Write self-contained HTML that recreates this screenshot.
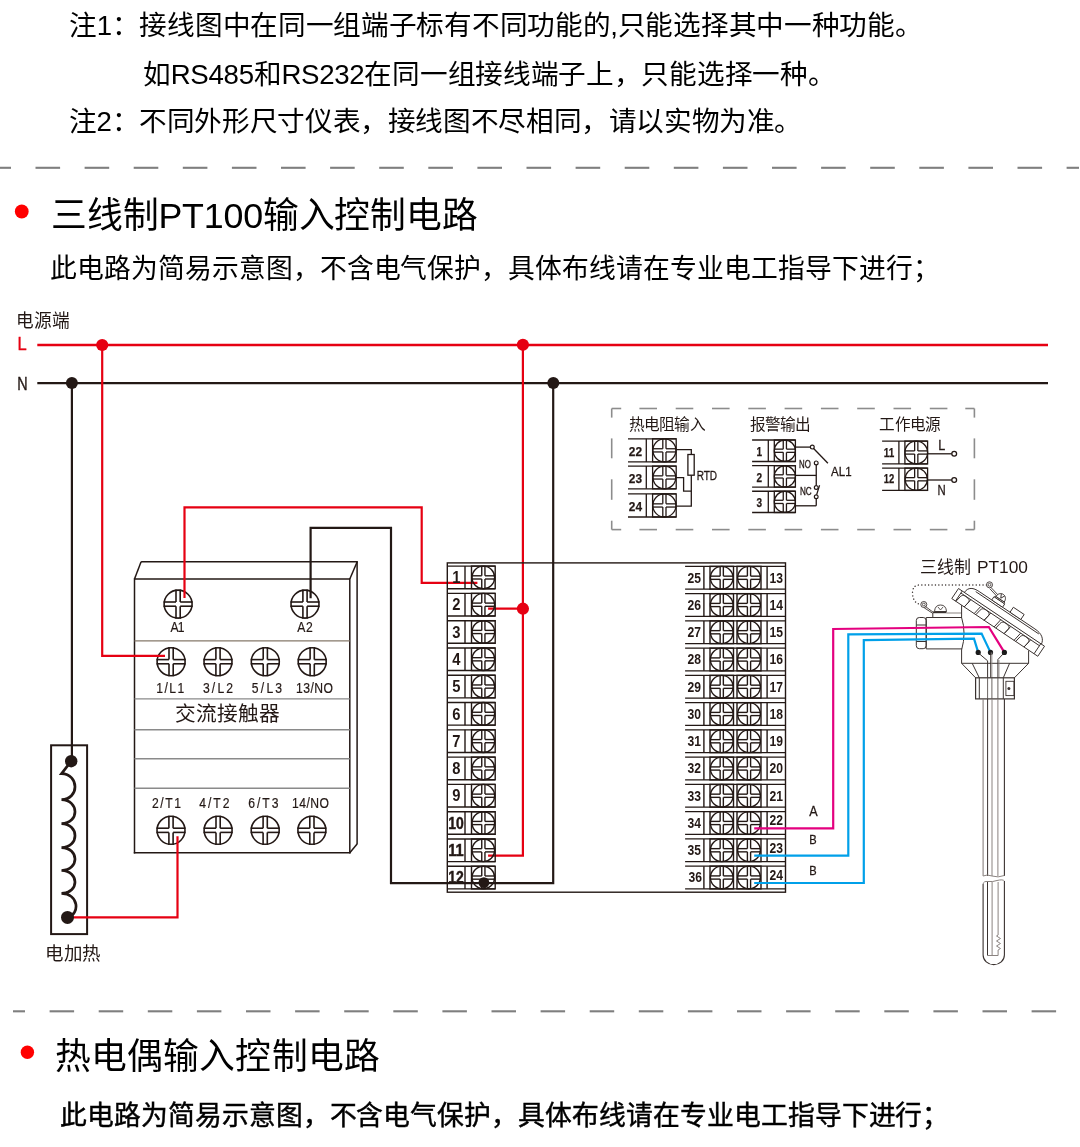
<!DOCTYPE html>
<html lang="zh-CN"><head><meta charset="utf-8">
<style>
html,body{margin:0;padding:0;background:#fff;width:1080px;height:1147px;overflow:hidden;position:relative}
body{font-family:"Liberation Sans",sans-serif;color:#000}
.t{position:absolute;white-space:nowrap;line-height:1;will-change:transform}
</style></head><body>
<div class="t" id="n1" style="left:69px;top:12px;font-size:27.65px;letter-spacing:-0.3px">注1：接线图中在同一组端子标有不同功能的,只能选择其中一种功能。</div>
<div class="t" id="n2" style="left:143px;top:61px;font-size:27.65px;letter-spacing:-0.3px">如RS485和RS232在同一组接线端子上，只能选择一种。</div>
<div class="t" id="n3" style="left:69px;top:108px;font-size:27.65px;letter-spacing:-0.38px">注2：不同外形尺寸仪表，接线图不尽相同，请以实物为准。</div>
<div class="t" id="h1" style="left:51px;top:199px;font-size:35.8px;letter-spacing:-0.2px">三线制PT100输入控制电路</div>
<div class="t" id="s1" style="left:50px;top:256px;font-size:26.8px;letter-spacing:-0.04px">此电路为简易示意图，不含电气保护，具体布线请在专业电工指导下进行；</div>
<div class="t" id="h2" style="left:55px;top:1040px;font-size:35.8px;letter-spacing:0.1px">热电偶输入控制电路</div>
<div class="t" id="s2" style="left:60px;top:1103px;font-size:26.8px;letter-spacing:-0.05px;-webkit-text-stroke:0.45px #000">此电路为简易示意图，不含电气保护，具体布线请在专业电工指导下进行；</div>

<svg width="1080" height="1147" viewBox="0 0 1080 1147" style="position:absolute;left:0;top:0;will-change:transform"><line x1="0.00" y1="167.80" x2="11.00" y2="167.80" stroke="#7f7f7f" stroke-width="2.1" />
<line x1="35.50" y1="167.80" x2="60.10" y2="167.80" stroke="#7f7f7f" stroke-width="2.1" />
<line x1="84.60" y1="167.80" x2="109.20" y2="167.80" stroke="#7f7f7f" stroke-width="2.1" />
<line x1="133.70" y1="167.80" x2="158.30" y2="167.80" stroke="#7f7f7f" stroke-width="2.1" />
<line x1="182.80" y1="167.80" x2="207.40" y2="167.80" stroke="#7f7f7f" stroke-width="2.1" />
<line x1="231.90" y1="167.80" x2="256.50" y2="167.80" stroke="#7f7f7f" stroke-width="2.1" />
<line x1="281.00" y1="167.80" x2="305.60" y2="167.80" stroke="#7f7f7f" stroke-width="2.1" />
<line x1="330.10" y1="167.80" x2="354.70" y2="167.80" stroke="#7f7f7f" stroke-width="2.1" />
<line x1="379.20" y1="167.80" x2="403.80" y2="167.80" stroke="#7f7f7f" stroke-width="2.1" />
<line x1="428.30" y1="167.80" x2="452.90" y2="167.80" stroke="#7f7f7f" stroke-width="2.1" />
<line x1="477.40" y1="167.80" x2="502.00" y2="167.80" stroke="#7f7f7f" stroke-width="2.1" />
<line x1="526.50" y1="167.80" x2="551.10" y2="167.80" stroke="#7f7f7f" stroke-width="2.1" />
<line x1="575.60" y1="167.80" x2="600.20" y2="167.80" stroke="#7f7f7f" stroke-width="2.1" />
<line x1="624.70" y1="167.80" x2="649.30" y2="167.80" stroke="#7f7f7f" stroke-width="2.1" />
<line x1="673.80" y1="167.80" x2="698.40" y2="167.80" stroke="#7f7f7f" stroke-width="2.1" />
<line x1="722.90" y1="167.80" x2="747.50" y2="167.80" stroke="#7f7f7f" stroke-width="2.1" />
<line x1="772.00" y1="167.80" x2="796.60" y2="167.80" stroke="#7f7f7f" stroke-width="2.1" />
<line x1="821.10" y1="167.80" x2="845.70" y2="167.80" stroke="#7f7f7f" stroke-width="2.1" />
<line x1="870.20" y1="167.80" x2="894.80" y2="167.80" stroke="#7f7f7f" stroke-width="2.1" />
<line x1="919.30" y1="167.80" x2="943.90" y2="167.80" stroke="#7f7f7f" stroke-width="2.1" />
<line x1="968.40" y1="167.80" x2="993.00" y2="167.80" stroke="#7f7f7f" stroke-width="2.1" />
<line x1="1017.50" y1="167.80" x2="1042.10" y2="167.80" stroke="#7f7f7f" stroke-width="2.1" />
<line x1="1066.60" y1="167.80" x2="1079.00" y2="167.80" stroke="#7f7f7f" stroke-width="2.1" />
<line x1="13.00" y1="1011.30" x2="25.00" y2="1011.30" stroke="#7f7f7f" stroke-width="2.1" />
<line x1="49.60" y1="1011.30" x2="74.10" y2="1011.30" stroke="#7f7f7f" stroke-width="2.1" />
<line x1="98.70" y1="1011.30" x2="123.20" y2="1011.30" stroke="#7f7f7f" stroke-width="2.1" />
<line x1="147.80" y1="1011.30" x2="172.30" y2="1011.30" stroke="#7f7f7f" stroke-width="2.1" />
<line x1="196.90" y1="1011.30" x2="221.40" y2="1011.30" stroke="#7f7f7f" stroke-width="2.1" />
<line x1="246.00" y1="1011.30" x2="270.50" y2="1011.30" stroke="#7f7f7f" stroke-width="2.1" />
<line x1="295.10" y1="1011.30" x2="319.60" y2="1011.30" stroke="#7f7f7f" stroke-width="2.1" />
<line x1="344.20" y1="1011.30" x2="368.70" y2="1011.30" stroke="#7f7f7f" stroke-width="2.1" />
<line x1="393.30" y1="1011.30" x2="417.80" y2="1011.30" stroke="#7f7f7f" stroke-width="2.1" />
<line x1="442.40" y1="1011.30" x2="466.90" y2="1011.30" stroke="#7f7f7f" stroke-width="2.1" />
<line x1="491.50" y1="1011.30" x2="516.00" y2="1011.30" stroke="#7f7f7f" stroke-width="2.1" />
<line x1="540.60" y1="1011.30" x2="565.10" y2="1011.30" stroke="#7f7f7f" stroke-width="2.1" />
<line x1="589.70" y1="1011.30" x2="614.20" y2="1011.30" stroke="#7f7f7f" stroke-width="2.1" />
<line x1="638.80" y1="1011.30" x2="663.30" y2="1011.30" stroke="#7f7f7f" stroke-width="2.1" />
<line x1="687.90" y1="1011.30" x2="712.40" y2="1011.30" stroke="#7f7f7f" stroke-width="2.1" />
<line x1="737.00" y1="1011.30" x2="761.50" y2="1011.30" stroke="#7f7f7f" stroke-width="2.1" />
<line x1="786.10" y1="1011.30" x2="810.60" y2="1011.30" stroke="#7f7f7f" stroke-width="2.1" />
<line x1="835.20" y1="1011.30" x2="859.70" y2="1011.30" stroke="#7f7f7f" stroke-width="2.1" />
<line x1="884.30" y1="1011.30" x2="908.80" y2="1011.30" stroke="#7f7f7f" stroke-width="2.1" />
<line x1="933.40" y1="1011.30" x2="957.90" y2="1011.30" stroke="#7f7f7f" stroke-width="2.1" />
<line x1="982.50" y1="1011.30" x2="1007.00" y2="1011.30" stroke="#7f7f7f" stroke-width="2.1" />
<line x1="1031.60" y1="1011.30" x2="1056.10" y2="1011.30" stroke="#7f7f7f" stroke-width="2.1" />
<circle cx="21.75" cy="211.50" r="6.90" fill="#ff0000"/>
<circle cx="27.40" cy="1052.20" r="6.70" fill="#ff0000"/>
<text x="15.80" y="326.50" font-size="18.5" fill="#231815" text-anchor="start" font-weight="normal" font-family='"Liberation Sans",sans-serif' textLength="54.50" lengthAdjust="spacingAndGlyphs" >电源端</text>
<text x="17.60" y="349.90" font-size="17.6" fill="#e60012" text-anchor="start" font-weight="normal" font-family='"Liberation Sans",sans-serif' textLength="9.20" lengthAdjust="spacingAndGlyphs" stroke="#e60012" stroke-width="0.35">L</text>
<text x="17.30" y="389.90" font-size="17.6" fill="#231815" text-anchor="start" font-weight="normal" font-family='"Liberation Sans",sans-serif' textLength="10.40" lengthAdjust="spacingAndGlyphs" stroke="#231815" stroke-width="0.35">N</text>
<line x1="37.30" y1="345.00" x2="1048.00" y2="345.00" stroke="#e60012" stroke-width="2.3" />
<line x1="37.30" y1="383.10" x2="1048.00" y2="383.10" stroke="#231815" stroke-width="2.3" />
<line x1="141.10" y1="561.80" x2="357.20" y2="561.80" stroke="#231815" stroke-width="1.5" />
<line x1="134.50" y1="579.00" x2="349.80" y2="579.00" stroke="#231815" stroke-width="1.5" />
<line x1="134.50" y1="579.00" x2="141.10" y2="561.80" stroke="#231815" stroke-width="1.5" />
<line x1="349.80" y1="579.00" x2="357.20" y2="561.80" stroke="#231815" stroke-width="1.5" />
<line x1="134.50" y1="578.30" x2="134.50" y2="853.40" stroke="#231815" stroke-width="1.5" />
<line x1="349.80" y1="578.30" x2="349.80" y2="853.40" stroke="#231815" stroke-width="1.5" />
<line x1="357.10" y1="561.10" x2="357.10" y2="844.20" stroke="#231815" stroke-width="1.5" />
<line x1="133.80" y1="852.70" x2="350.50" y2="852.70" stroke="#231815" stroke-width="1.5" />
<line x1="349.80" y1="852.70" x2="357.10" y2="843.90" stroke="#231815" stroke-width="1.5" />
<line x1="134.50" y1="640.80" x2="349.80" y2="640.80" stroke="#85786a" stroke-width="1.3" />
<line x1="134.50" y1="698.90" x2="349.80" y2="698.90" stroke="#8a8a8a" stroke-width="1.4" />
<line x1="134.50" y1="729.80" x2="349.80" y2="729.80" stroke="#8a8a8a" stroke-width="1.4" />
<line x1="134.50" y1="758.80" x2="349.80" y2="758.80" stroke="#8a8a8a" stroke-width="1.4" />
<line x1="134.50" y1="788.30" x2="349.80" y2="788.30" stroke="#8a8a8a" stroke-width="1.4" />
<circle cx="178.10" cy="604.10" r="14.00" fill="none" stroke="#231815" stroke-width="1.6"/>
<line x1="176.00" y1="589.50" x2="176.00" y2="602.00" stroke="#231815" stroke-width="1.6" />
<line x1="176.00" y1="606.20" x2="176.00" y2="618.70" stroke="#231815" stroke-width="1.6" />
<line x1="180.20" y1="589.50" x2="180.20" y2="602.00" stroke="#231815" stroke-width="1.6" />
<line x1="180.20" y1="606.20" x2="180.20" y2="618.70" stroke="#231815" stroke-width="1.6" />
<line x1="163.50" y1="602.00" x2="176.00" y2="602.00" stroke="#231815" stroke-width="1.6" />
<line x1="180.20" y1="602.00" x2="192.70" y2="602.00" stroke="#231815" stroke-width="1.6" />
<line x1="163.50" y1="606.20" x2="176.00" y2="606.20" stroke="#231815" stroke-width="1.6" />
<line x1="180.20" y1="606.20" x2="192.70" y2="606.20" stroke="#231815" stroke-width="1.6" />
<circle cx="305.00" cy="604.10" r="14.00" fill="none" stroke="#231815" stroke-width="1.6"/>
<line x1="302.90" y1="589.50" x2="302.90" y2="602.00" stroke="#231815" stroke-width="1.6" />
<line x1="302.90" y1="606.20" x2="302.90" y2="618.70" stroke="#231815" stroke-width="1.6" />
<line x1="307.10" y1="589.50" x2="307.10" y2="602.00" stroke="#231815" stroke-width="1.6" />
<line x1="307.10" y1="606.20" x2="307.10" y2="618.70" stroke="#231815" stroke-width="1.6" />
<line x1="290.40" y1="602.00" x2="302.90" y2="602.00" stroke="#231815" stroke-width="1.6" />
<line x1="307.10" y1="602.00" x2="319.60" y2="602.00" stroke="#231815" stroke-width="1.6" />
<line x1="290.40" y1="606.20" x2="302.90" y2="606.20" stroke="#231815" stroke-width="1.6" />
<line x1="307.10" y1="606.20" x2="319.60" y2="606.20" stroke="#231815" stroke-width="1.6" />
<text transform="translate(177.60,632.20) scale(0.85,1)" font-size="14.3" stroke="#231815" stroke-width="0.2" fill="#231815" text-anchor="middle" font-family='"Liberation Sans",sans-serif' textLength="16.59" lengthAdjust="spacing">A1</text>
<text transform="translate(305.00,632.20) scale(0.85,1)" font-size="14.3" stroke="#231815" stroke-width="0.2" fill="#231815" text-anchor="middle" font-family='"Liberation Sans",sans-serif' textLength="18.12" lengthAdjust="spacing">A2</text>
<circle cx="171.10" cy="661.70" r="14.00" fill="none" stroke="#231815" stroke-width="1.6"/>
<line x1="169.00" y1="647.10" x2="169.00" y2="659.60" stroke="#231815" stroke-width="1.6" />
<line x1="169.00" y1="663.80" x2="169.00" y2="676.30" stroke="#231815" stroke-width="1.6" />
<line x1="173.20" y1="647.10" x2="173.20" y2="659.60" stroke="#231815" stroke-width="1.6" />
<line x1="173.20" y1="663.80" x2="173.20" y2="676.30" stroke="#231815" stroke-width="1.6" />
<line x1="156.50" y1="659.60" x2="169.00" y2="659.60" stroke="#231815" stroke-width="1.6" />
<line x1="173.20" y1="659.60" x2="185.70" y2="659.60" stroke="#231815" stroke-width="1.6" />
<line x1="156.50" y1="663.80" x2="169.00" y2="663.80" stroke="#231815" stroke-width="1.6" />
<line x1="173.20" y1="663.80" x2="185.70" y2="663.80" stroke="#231815" stroke-width="1.6" />
<text transform="translate(170.25,692.60) scale(0.85,1)" font-size="14.3" stroke="#231815" stroke-width="0.2" fill="#231815" text-anchor="middle" font-family='"Liberation Sans",sans-serif' textLength="33.06" lengthAdjust="spacing">1/L1</text>
<circle cx="218.00" cy="661.70" r="14.00" fill="none" stroke="#231815" stroke-width="1.6"/>
<line x1="215.90" y1="647.10" x2="215.90" y2="659.60" stroke="#231815" stroke-width="1.6" />
<line x1="215.90" y1="663.80" x2="215.90" y2="676.30" stroke="#231815" stroke-width="1.6" />
<line x1="220.10" y1="647.10" x2="220.10" y2="659.60" stroke="#231815" stroke-width="1.6" />
<line x1="220.10" y1="663.80" x2="220.10" y2="676.30" stroke="#231815" stroke-width="1.6" />
<line x1="203.40" y1="659.60" x2="215.90" y2="659.60" stroke="#231815" stroke-width="1.6" />
<line x1="220.10" y1="659.60" x2="232.60" y2="659.60" stroke="#231815" stroke-width="1.6" />
<line x1="203.40" y1="663.80" x2="215.90" y2="663.80" stroke="#231815" stroke-width="1.6" />
<line x1="220.10" y1="663.80" x2="232.60" y2="663.80" stroke="#231815" stroke-width="1.6" />
<text transform="translate(218.00,692.60) scale(0.85,1)" font-size="14.3" stroke="#231815" stroke-width="0.2" fill="#231815" text-anchor="middle" font-family='"Liberation Sans",sans-serif' textLength="35.41" lengthAdjust="spacing">3/L2</text>
<circle cx="265.30" cy="661.70" r="14.00" fill="none" stroke="#231815" stroke-width="1.6"/>
<line x1="263.20" y1="647.10" x2="263.20" y2="659.60" stroke="#231815" stroke-width="1.6" />
<line x1="263.20" y1="663.80" x2="263.20" y2="676.30" stroke="#231815" stroke-width="1.6" />
<line x1="267.40" y1="647.10" x2="267.40" y2="659.60" stroke="#231815" stroke-width="1.6" />
<line x1="267.40" y1="663.80" x2="267.40" y2="676.30" stroke="#231815" stroke-width="1.6" />
<line x1="250.70" y1="659.60" x2="263.20" y2="659.60" stroke="#231815" stroke-width="1.6" />
<line x1="267.40" y1="659.60" x2="279.90" y2="659.60" stroke="#231815" stroke-width="1.6" />
<line x1="250.70" y1="663.80" x2="263.20" y2="663.80" stroke="#231815" stroke-width="1.6" />
<line x1="267.40" y1="663.80" x2="279.90" y2="663.80" stroke="#231815" stroke-width="1.6" />
<text transform="translate(267.00,692.60) scale(0.85,1)" font-size="14.3" stroke="#231815" stroke-width="0.2" fill="#231815" text-anchor="middle" font-family='"Liberation Sans",sans-serif' textLength="35.65" lengthAdjust="spacing">5/L3</text>
<circle cx="312.20" cy="661.70" r="14.00" fill="none" stroke="#231815" stroke-width="1.6"/>
<line x1="310.10" y1="647.10" x2="310.10" y2="659.60" stroke="#231815" stroke-width="1.6" />
<line x1="310.10" y1="663.80" x2="310.10" y2="676.30" stroke="#231815" stroke-width="1.6" />
<line x1="314.30" y1="647.10" x2="314.30" y2="659.60" stroke="#231815" stroke-width="1.6" />
<line x1="314.30" y1="663.80" x2="314.30" y2="676.30" stroke="#231815" stroke-width="1.6" />
<line x1="297.60" y1="659.60" x2="310.10" y2="659.60" stroke="#231815" stroke-width="1.6" />
<line x1="314.30" y1="659.60" x2="326.80" y2="659.60" stroke="#231815" stroke-width="1.6" />
<line x1="297.60" y1="663.80" x2="310.10" y2="663.80" stroke="#231815" stroke-width="1.6" />
<line x1="314.30" y1="663.80" x2="326.80" y2="663.80" stroke="#231815" stroke-width="1.6" />
<text transform="translate(314.50,692.60) scale(0.85,1)" font-size="14.3" stroke="#231815" stroke-width="0.2" fill="#231815" text-anchor="middle" font-family='"Liberation Sans",sans-serif' textLength="43.65" lengthAdjust="spacing">13/NO</text>
<text x="175.00" y="721.30" font-size="20.8" fill="#231815" text-anchor="start" font-weight="normal" font-family='"Liberation Sans",sans-serif' textLength="104.50" lengthAdjust="spacingAndGlyphs" >交流接触器</text>
<circle cx="171.00" cy="830.30" r="14.00" fill="none" stroke="#231815" stroke-width="1.6"/>
<line x1="168.90" y1="815.70" x2="168.90" y2="828.20" stroke="#231815" stroke-width="1.6" />
<line x1="168.90" y1="832.40" x2="168.90" y2="844.90" stroke="#231815" stroke-width="1.6" />
<line x1="173.10" y1="815.70" x2="173.10" y2="828.20" stroke="#231815" stroke-width="1.6" />
<line x1="173.10" y1="832.40" x2="173.10" y2="844.90" stroke="#231815" stroke-width="1.6" />
<line x1="156.40" y1="828.20" x2="168.90" y2="828.20" stroke="#231815" stroke-width="1.6" />
<line x1="173.10" y1="828.20" x2="185.60" y2="828.20" stroke="#231815" stroke-width="1.6" />
<line x1="156.40" y1="832.40" x2="168.90" y2="832.40" stroke="#231815" stroke-width="1.6" />
<line x1="173.10" y1="832.40" x2="185.60" y2="832.40" stroke="#231815" stroke-width="1.6" />
<text transform="translate(166.50,808.00) scale(0.85,1)" font-size="14.3" stroke="#231815" stroke-width="0.2" fill="#231815" text-anchor="middle" font-family='"Liberation Sans",sans-serif' textLength="33.88" lengthAdjust="spacing">2/T1</text>
<circle cx="218.10" cy="830.30" r="14.00" fill="none" stroke="#231815" stroke-width="1.6"/>
<line x1="216.00" y1="815.70" x2="216.00" y2="828.20" stroke="#231815" stroke-width="1.6" />
<line x1="216.00" y1="832.40" x2="216.00" y2="844.90" stroke="#231815" stroke-width="1.6" />
<line x1="220.20" y1="815.70" x2="220.20" y2="828.20" stroke="#231815" stroke-width="1.6" />
<line x1="220.20" y1="832.40" x2="220.20" y2="844.90" stroke="#231815" stroke-width="1.6" />
<line x1="203.50" y1="828.20" x2="216.00" y2="828.20" stroke="#231815" stroke-width="1.6" />
<line x1="220.20" y1="828.20" x2="232.70" y2="828.20" stroke="#231815" stroke-width="1.6" />
<line x1="203.50" y1="832.40" x2="216.00" y2="832.40" stroke="#231815" stroke-width="1.6" />
<line x1="220.20" y1="832.40" x2="232.70" y2="832.40" stroke="#231815" stroke-width="1.6" />
<text transform="translate(214.30,808.00) scale(0.85,1)" font-size="14.3" stroke="#231815" stroke-width="0.2" fill="#231815" text-anchor="middle" font-family='"Liberation Sans",sans-serif' textLength="35.65" lengthAdjust="spacing">4/T2</text>
<circle cx="265.20" cy="830.30" r="14.00" fill="none" stroke="#231815" stroke-width="1.6"/>
<line x1="263.10" y1="815.70" x2="263.10" y2="828.20" stroke="#231815" stroke-width="1.6" />
<line x1="263.10" y1="832.40" x2="263.10" y2="844.90" stroke="#231815" stroke-width="1.6" />
<line x1="267.30" y1="815.70" x2="267.30" y2="828.20" stroke="#231815" stroke-width="1.6" />
<line x1="267.30" y1="832.40" x2="267.30" y2="844.90" stroke="#231815" stroke-width="1.6" />
<line x1="250.60" y1="828.20" x2="263.10" y2="828.20" stroke="#231815" stroke-width="1.6" />
<line x1="267.30" y1="828.20" x2="279.80" y2="828.20" stroke="#231815" stroke-width="1.6" />
<line x1="250.60" y1="832.40" x2="263.10" y2="832.40" stroke="#231815" stroke-width="1.6" />
<line x1="267.30" y1="832.40" x2="279.80" y2="832.40" stroke="#231815" stroke-width="1.6" />
<text transform="translate(263.30,808.00) scale(0.85,1)" font-size="14.3" stroke="#231815" stroke-width="0.2" fill="#231815" text-anchor="middle" font-family='"Liberation Sans",sans-serif' textLength="35.53" lengthAdjust="spacing">6/T3</text>
<circle cx="311.90" cy="830.30" r="14.00" fill="none" stroke="#231815" stroke-width="1.6"/>
<line x1="309.80" y1="815.70" x2="309.80" y2="828.20" stroke="#231815" stroke-width="1.6" />
<line x1="309.80" y1="832.40" x2="309.80" y2="844.90" stroke="#231815" stroke-width="1.6" />
<line x1="314.00" y1="815.70" x2="314.00" y2="828.20" stroke="#231815" stroke-width="1.6" />
<line x1="314.00" y1="832.40" x2="314.00" y2="844.90" stroke="#231815" stroke-width="1.6" />
<line x1="297.30" y1="828.20" x2="309.80" y2="828.20" stroke="#231815" stroke-width="1.6" />
<line x1="314.00" y1="828.20" x2="326.50" y2="828.20" stroke="#231815" stroke-width="1.6" />
<line x1="297.30" y1="832.40" x2="309.80" y2="832.40" stroke="#231815" stroke-width="1.6" />
<line x1="314.00" y1="832.40" x2="326.50" y2="832.40" stroke="#231815" stroke-width="1.6" />
<text transform="translate(310.50,808.00) scale(0.85,1)" font-size="14.3" stroke="#231815" stroke-width="0.2" fill="#231815" text-anchor="middle" font-family='"Liberation Sans",sans-serif' textLength="43.65" lengthAdjust="spacing">14/NO</text>
<rect x="51.1" y="745.3" width="36" height="188.8" fill="none" stroke="#231815" stroke-width="2"/>
<path d="M71.2,761.2 L61.5,773.6 C79.5,774.1 79.5,799.2 61.5,799.7 C79.5,800.2 79.5,823.2 61.5,823.7 C79.5,824.2 79.5,847.1 61.5,847.6 C79.5,848.1 79.5,870.0 61.5,870.5 C79.5,871.0 79.5,892.9 61.5,893.4 C79.5,894 79.5,914 68.5,917" fill="none" stroke="#231815" stroke-width="2.7"/>
<text x="45.00" y="960.30" font-size="18" fill="#231815" text-anchor="start" font-weight="normal" font-family='"Liberation Sans",sans-serif' textLength="55.50" lengthAdjust="spacingAndGlyphs" >电加热</text>
<polyline points="102.20,345.00 102.20,655.90 165.00,655.90" fill="none" stroke="#e60012" stroke-width="2.2" stroke-linejoin="miter" />
<polyline points="71.90,383.10 71.90,761.00" fill="none" stroke="#231815" stroke-width="2.2" stroke-linejoin="miter" />
<polyline points="184.50,598.00 184.50,507.40 421.70,507.40 421.70,582.80 477.40,582.80" fill="none" stroke="#e60012" stroke-width="2.2" stroke-linejoin="miter" />
<polyline points="310.60,598.30 310.60,527.80 391.00,527.80 391.00,883.20 553.20,883.20 553.20,383.10" fill="none" stroke="#231815" stroke-width="2.2" stroke-linejoin="miter" />
<polyline points="522.90,345.00 522.90,855.70 488.10,855.70" fill="none" stroke="#e60012" stroke-width="2.2" stroke-linejoin="miter" />
<polyline points="522.90,608.70 488.10,608.70" fill="none" stroke="#e60012" stroke-width="2.2" stroke-linejoin="miter" />
<polyline points="67.50,917.40 177.50,917.40 177.50,836.30" fill="none" stroke="#e60012" stroke-width="2.2" stroke-linejoin="miter" />
<circle cx="71.20" cy="761.20" r="6.20" fill="#231815"/>
<circle cx="67.50" cy="917.40" r="6.50" fill="#231815"/>
<circle cx="102.20" cy="345.00" r="6.10" fill="#e60012"/>
<circle cx="522.90" cy="344.80" r="6.10" fill="#e60012"/>
<circle cx="522.90" cy="608.70" r="6.10" fill="#e60012"/>
<circle cx="71.90" cy="383.10" r="6.00" fill="#231815"/>
<circle cx="553.30" cy="383.10" r="6.00" fill="#231815"/>
<rect x="447.3" y="562.9" width="338.2" height="329.3" fill="none" stroke="#231815" stroke-width="1.4"/>
<line x1="447.30" y1="566.10" x2="495.20" y2="566.10" stroke="#231815" stroke-width="1.4" />
<line x1="447.30" y1="588.70" x2="495.20" y2="588.70" stroke="#231815" stroke-width="1.4" />
<line x1="465.00" y1="566.10" x2="465.00" y2="588.70" stroke="#231815" stroke-width="1.4" />
<rect x="471.50" y="566.10" width="23.70" height="22.60" fill="none" stroke="#231815" stroke-width="1.4"/>
<circle cx="483.35" cy="577.40" r="11.30" fill="none" stroke="#231815" stroke-width="1.4"/>
<line x1="481.75" y1="566.10" x2="481.75" y2="575.80" stroke="#231815" stroke-width="1.4" />
<line x1="481.75" y1="579.00" x2="481.75" y2="588.70" stroke="#231815" stroke-width="1.4" />
<line x1="484.95" y1="566.10" x2="484.95" y2="575.80" stroke="#231815" stroke-width="1.4" />
<line x1="484.95" y1="579.00" x2="484.95" y2="588.70" stroke="#231815" stroke-width="1.4" />
<line x1="471.50" y1="575.80" x2="481.75" y2="575.80" stroke="#231815" stroke-width="1.4" />
<line x1="484.95" y1="575.80" x2="495.20" y2="575.80" stroke="#231815" stroke-width="1.4" />
<line x1="471.50" y1="579.00" x2="481.75" y2="579.00" stroke="#231815" stroke-width="1.4" />
<line x1="484.95" y1="579.00" x2="495.20" y2="579.00" stroke="#231815" stroke-width="1.4" />
<text x="456.30" y="583.10" font-size="16" fill="#231815" text-anchor="middle" font-weight="bold" font-family='"Liberation Sans",sans-serif' textLength="8.20" lengthAdjust="spacingAndGlyphs" >1</text>
<line x1="447.30" y1="593.39" x2="495.20" y2="593.39" stroke="#231815" stroke-width="1.4" />
<line x1="447.30" y1="615.99" x2="495.20" y2="615.99" stroke="#231815" stroke-width="1.4" />
<line x1="465.00" y1="593.39" x2="465.00" y2="615.99" stroke="#231815" stroke-width="1.4" />
<rect x="471.50" y="593.39" width="23.70" height="22.60" fill="none" stroke="#231815" stroke-width="1.4"/>
<circle cx="483.35" cy="604.69" r="11.30" fill="none" stroke="#231815" stroke-width="1.4"/>
<line x1="481.75" y1="593.39" x2="481.75" y2="603.09" stroke="#231815" stroke-width="1.4" />
<line x1="481.75" y1="606.29" x2="481.75" y2="615.99" stroke="#231815" stroke-width="1.4" />
<line x1="484.95" y1="593.39" x2="484.95" y2="603.09" stroke="#231815" stroke-width="1.4" />
<line x1="484.95" y1="606.29" x2="484.95" y2="615.99" stroke="#231815" stroke-width="1.4" />
<line x1="471.50" y1="603.09" x2="481.75" y2="603.09" stroke="#231815" stroke-width="1.4" />
<line x1="484.95" y1="603.09" x2="495.20" y2="603.09" stroke="#231815" stroke-width="1.4" />
<line x1="471.50" y1="606.29" x2="481.75" y2="606.29" stroke="#231815" stroke-width="1.4" />
<line x1="484.95" y1="606.29" x2="495.20" y2="606.29" stroke="#231815" stroke-width="1.4" />
<text x="456.30" y="610.39" font-size="16" fill="#231815" text-anchor="middle" font-weight="bold" font-family='"Liberation Sans",sans-serif' textLength="8.20" lengthAdjust="spacingAndGlyphs" >2</text>
<line x1="447.30" y1="620.68" x2="495.20" y2="620.68" stroke="#231815" stroke-width="1.4" />
<line x1="447.30" y1="643.28" x2="495.20" y2="643.28" stroke="#231815" stroke-width="1.4" />
<line x1="465.00" y1="620.68" x2="465.00" y2="643.28" stroke="#231815" stroke-width="1.4" />
<rect x="471.50" y="620.68" width="23.70" height="22.60" fill="none" stroke="#231815" stroke-width="1.4"/>
<circle cx="483.35" cy="631.98" r="11.30" fill="none" stroke="#231815" stroke-width="1.4"/>
<line x1="481.75" y1="620.68" x2="481.75" y2="630.38" stroke="#231815" stroke-width="1.4" />
<line x1="481.75" y1="633.58" x2="481.75" y2="643.28" stroke="#231815" stroke-width="1.4" />
<line x1="484.95" y1="620.68" x2="484.95" y2="630.38" stroke="#231815" stroke-width="1.4" />
<line x1="484.95" y1="633.58" x2="484.95" y2="643.28" stroke="#231815" stroke-width="1.4" />
<line x1="471.50" y1="630.38" x2="481.75" y2="630.38" stroke="#231815" stroke-width="1.4" />
<line x1="484.95" y1="630.38" x2="495.20" y2="630.38" stroke="#231815" stroke-width="1.4" />
<line x1="471.50" y1="633.58" x2="481.75" y2="633.58" stroke="#231815" stroke-width="1.4" />
<line x1="484.95" y1="633.58" x2="495.20" y2="633.58" stroke="#231815" stroke-width="1.4" />
<text x="456.30" y="637.68" font-size="16" fill="#231815" text-anchor="middle" font-weight="bold" font-family='"Liberation Sans",sans-serif' textLength="8.20" lengthAdjust="spacingAndGlyphs" >3</text>
<line x1="447.30" y1="647.97" x2="495.20" y2="647.97" stroke="#231815" stroke-width="1.4" />
<line x1="447.30" y1="670.57" x2="495.20" y2="670.57" stroke="#231815" stroke-width="1.4" />
<line x1="465.00" y1="647.97" x2="465.00" y2="670.57" stroke="#231815" stroke-width="1.4" />
<rect x="471.50" y="647.97" width="23.70" height="22.60" fill="none" stroke="#231815" stroke-width="1.4"/>
<circle cx="483.35" cy="659.27" r="11.30" fill="none" stroke="#231815" stroke-width="1.4"/>
<line x1="481.75" y1="647.97" x2="481.75" y2="657.67" stroke="#231815" stroke-width="1.4" />
<line x1="481.75" y1="660.87" x2="481.75" y2="670.57" stroke="#231815" stroke-width="1.4" />
<line x1="484.95" y1="647.97" x2="484.95" y2="657.67" stroke="#231815" stroke-width="1.4" />
<line x1="484.95" y1="660.87" x2="484.95" y2="670.57" stroke="#231815" stroke-width="1.4" />
<line x1="471.50" y1="657.67" x2="481.75" y2="657.67" stroke="#231815" stroke-width="1.4" />
<line x1="484.95" y1="657.67" x2="495.20" y2="657.67" stroke="#231815" stroke-width="1.4" />
<line x1="471.50" y1="660.87" x2="481.75" y2="660.87" stroke="#231815" stroke-width="1.4" />
<line x1="484.95" y1="660.87" x2="495.20" y2="660.87" stroke="#231815" stroke-width="1.4" />
<text x="456.30" y="664.97" font-size="16" fill="#231815" text-anchor="middle" font-weight="bold" font-family='"Liberation Sans",sans-serif' textLength="8.20" lengthAdjust="spacingAndGlyphs" >4</text>
<line x1="447.30" y1="675.26" x2="495.20" y2="675.26" stroke="#231815" stroke-width="1.4" />
<line x1="447.30" y1="697.86" x2="495.20" y2="697.86" stroke="#231815" stroke-width="1.4" />
<line x1="465.00" y1="675.26" x2="465.00" y2="697.86" stroke="#231815" stroke-width="1.4" />
<rect x="471.50" y="675.26" width="23.70" height="22.60" fill="none" stroke="#231815" stroke-width="1.4"/>
<circle cx="483.35" cy="686.56" r="11.30" fill="none" stroke="#231815" stroke-width="1.4"/>
<line x1="481.75" y1="675.26" x2="481.75" y2="684.96" stroke="#231815" stroke-width="1.4" />
<line x1="481.75" y1="688.16" x2="481.75" y2="697.86" stroke="#231815" stroke-width="1.4" />
<line x1="484.95" y1="675.26" x2="484.95" y2="684.96" stroke="#231815" stroke-width="1.4" />
<line x1="484.95" y1="688.16" x2="484.95" y2="697.86" stroke="#231815" stroke-width="1.4" />
<line x1="471.50" y1="684.96" x2="481.75" y2="684.96" stroke="#231815" stroke-width="1.4" />
<line x1="484.95" y1="684.96" x2="495.20" y2="684.96" stroke="#231815" stroke-width="1.4" />
<line x1="471.50" y1="688.16" x2="481.75" y2="688.16" stroke="#231815" stroke-width="1.4" />
<line x1="484.95" y1="688.16" x2="495.20" y2="688.16" stroke="#231815" stroke-width="1.4" />
<text x="456.30" y="692.26" font-size="16" fill="#231815" text-anchor="middle" font-weight="bold" font-family='"Liberation Sans",sans-serif' textLength="8.20" lengthAdjust="spacingAndGlyphs" >5</text>
<line x1="447.30" y1="702.55" x2="495.20" y2="702.55" stroke="#231815" stroke-width="1.4" />
<line x1="447.30" y1="725.15" x2="495.20" y2="725.15" stroke="#231815" stroke-width="1.4" />
<line x1="465.00" y1="702.55" x2="465.00" y2="725.15" stroke="#231815" stroke-width="1.4" />
<rect x="471.50" y="702.55" width="23.70" height="22.60" fill="none" stroke="#231815" stroke-width="1.4"/>
<circle cx="483.35" cy="713.85" r="11.30" fill="none" stroke="#231815" stroke-width="1.4"/>
<line x1="481.75" y1="702.55" x2="481.75" y2="712.25" stroke="#231815" stroke-width="1.4" />
<line x1="481.75" y1="715.45" x2="481.75" y2="725.15" stroke="#231815" stroke-width="1.4" />
<line x1="484.95" y1="702.55" x2="484.95" y2="712.25" stroke="#231815" stroke-width="1.4" />
<line x1="484.95" y1="715.45" x2="484.95" y2="725.15" stroke="#231815" stroke-width="1.4" />
<line x1="471.50" y1="712.25" x2="481.75" y2="712.25" stroke="#231815" stroke-width="1.4" />
<line x1="484.95" y1="712.25" x2="495.20" y2="712.25" stroke="#231815" stroke-width="1.4" />
<line x1="471.50" y1="715.45" x2="481.75" y2="715.45" stroke="#231815" stroke-width="1.4" />
<line x1="484.95" y1="715.45" x2="495.20" y2="715.45" stroke="#231815" stroke-width="1.4" />
<text x="456.30" y="719.55" font-size="16" fill="#231815" text-anchor="middle" font-weight="bold" font-family='"Liberation Sans",sans-serif' textLength="8.20" lengthAdjust="spacingAndGlyphs" >6</text>
<line x1="447.30" y1="729.84" x2="495.20" y2="729.84" stroke="#231815" stroke-width="1.4" />
<line x1="447.30" y1="752.44" x2="495.20" y2="752.44" stroke="#231815" stroke-width="1.4" />
<line x1="465.00" y1="729.84" x2="465.00" y2="752.44" stroke="#231815" stroke-width="1.4" />
<rect x="471.50" y="729.84" width="23.70" height="22.60" fill="none" stroke="#231815" stroke-width="1.4"/>
<circle cx="483.35" cy="741.14" r="11.30" fill="none" stroke="#231815" stroke-width="1.4"/>
<line x1="481.75" y1="729.84" x2="481.75" y2="739.54" stroke="#231815" stroke-width="1.4" />
<line x1="481.75" y1="742.74" x2="481.75" y2="752.44" stroke="#231815" stroke-width="1.4" />
<line x1="484.95" y1="729.84" x2="484.95" y2="739.54" stroke="#231815" stroke-width="1.4" />
<line x1="484.95" y1="742.74" x2="484.95" y2="752.44" stroke="#231815" stroke-width="1.4" />
<line x1="471.50" y1="739.54" x2="481.75" y2="739.54" stroke="#231815" stroke-width="1.4" />
<line x1="484.95" y1="739.54" x2="495.20" y2="739.54" stroke="#231815" stroke-width="1.4" />
<line x1="471.50" y1="742.74" x2="481.75" y2="742.74" stroke="#231815" stroke-width="1.4" />
<line x1="484.95" y1="742.74" x2="495.20" y2="742.74" stroke="#231815" stroke-width="1.4" />
<text x="456.30" y="746.84" font-size="16" fill="#231815" text-anchor="middle" font-weight="bold" font-family='"Liberation Sans",sans-serif' textLength="8.20" lengthAdjust="spacingAndGlyphs" >7</text>
<line x1="447.30" y1="757.13" x2="495.20" y2="757.13" stroke="#231815" stroke-width="1.4" />
<line x1="447.30" y1="779.73" x2="495.20" y2="779.73" stroke="#231815" stroke-width="1.4" />
<line x1="465.00" y1="757.13" x2="465.00" y2="779.73" stroke="#231815" stroke-width="1.4" />
<rect x="471.50" y="757.13" width="23.70" height="22.60" fill="none" stroke="#231815" stroke-width="1.4"/>
<circle cx="483.35" cy="768.43" r="11.30" fill="none" stroke="#231815" stroke-width="1.4"/>
<line x1="481.75" y1="757.13" x2="481.75" y2="766.83" stroke="#231815" stroke-width="1.4" />
<line x1="481.75" y1="770.03" x2="481.75" y2="779.73" stroke="#231815" stroke-width="1.4" />
<line x1="484.95" y1="757.13" x2="484.95" y2="766.83" stroke="#231815" stroke-width="1.4" />
<line x1="484.95" y1="770.03" x2="484.95" y2="779.73" stroke="#231815" stroke-width="1.4" />
<line x1="471.50" y1="766.83" x2="481.75" y2="766.83" stroke="#231815" stroke-width="1.4" />
<line x1="484.95" y1="766.83" x2="495.20" y2="766.83" stroke="#231815" stroke-width="1.4" />
<line x1="471.50" y1="770.03" x2="481.75" y2="770.03" stroke="#231815" stroke-width="1.4" />
<line x1="484.95" y1="770.03" x2="495.20" y2="770.03" stroke="#231815" stroke-width="1.4" />
<text x="456.30" y="774.13" font-size="16" fill="#231815" text-anchor="middle" font-weight="bold" font-family='"Liberation Sans",sans-serif' textLength="8.20" lengthAdjust="spacingAndGlyphs" >8</text>
<line x1="447.30" y1="784.42" x2="495.20" y2="784.42" stroke="#231815" stroke-width="1.4" />
<line x1="447.30" y1="807.02" x2="495.20" y2="807.02" stroke="#231815" stroke-width="1.4" />
<line x1="465.00" y1="784.42" x2="465.00" y2="807.02" stroke="#231815" stroke-width="1.4" />
<rect x="471.50" y="784.42" width="23.70" height="22.60" fill="none" stroke="#231815" stroke-width="1.4"/>
<circle cx="483.35" cy="795.72" r="11.30" fill="none" stroke="#231815" stroke-width="1.4"/>
<line x1="481.75" y1="784.42" x2="481.75" y2="794.12" stroke="#231815" stroke-width="1.4" />
<line x1="481.75" y1="797.32" x2="481.75" y2="807.02" stroke="#231815" stroke-width="1.4" />
<line x1="484.95" y1="784.42" x2="484.95" y2="794.12" stroke="#231815" stroke-width="1.4" />
<line x1="484.95" y1="797.32" x2="484.95" y2="807.02" stroke="#231815" stroke-width="1.4" />
<line x1="471.50" y1="794.12" x2="481.75" y2="794.12" stroke="#231815" stroke-width="1.4" />
<line x1="484.95" y1="794.12" x2="495.20" y2="794.12" stroke="#231815" stroke-width="1.4" />
<line x1="471.50" y1="797.32" x2="481.75" y2="797.32" stroke="#231815" stroke-width="1.4" />
<line x1="484.95" y1="797.32" x2="495.20" y2="797.32" stroke="#231815" stroke-width="1.4" />
<text x="456.30" y="801.42" font-size="16" fill="#231815" text-anchor="middle" font-weight="bold" font-family='"Liberation Sans",sans-serif' textLength="8.20" lengthAdjust="spacingAndGlyphs" >9</text>
<line x1="447.30" y1="811.71" x2="495.20" y2="811.71" stroke="#231815" stroke-width="1.4" />
<line x1="447.30" y1="834.31" x2="495.20" y2="834.31" stroke="#231815" stroke-width="1.4" />
<line x1="465.00" y1="811.71" x2="465.00" y2="834.31" stroke="#231815" stroke-width="1.4" />
<rect x="471.50" y="811.71" width="23.70" height="22.60" fill="none" stroke="#231815" stroke-width="1.4"/>
<circle cx="483.35" cy="823.01" r="11.30" fill="none" stroke="#231815" stroke-width="1.4"/>
<line x1="481.75" y1="811.71" x2="481.75" y2="821.41" stroke="#231815" stroke-width="1.4" />
<line x1="481.75" y1="824.61" x2="481.75" y2="834.31" stroke="#231815" stroke-width="1.4" />
<line x1="484.95" y1="811.71" x2="484.95" y2="821.41" stroke="#231815" stroke-width="1.4" />
<line x1="484.95" y1="824.61" x2="484.95" y2="834.31" stroke="#231815" stroke-width="1.4" />
<line x1="471.50" y1="821.41" x2="481.75" y2="821.41" stroke="#231815" stroke-width="1.4" />
<line x1="484.95" y1="821.41" x2="495.20" y2="821.41" stroke="#231815" stroke-width="1.4" />
<line x1="471.50" y1="824.61" x2="481.75" y2="824.61" stroke="#231815" stroke-width="1.4" />
<line x1="484.95" y1="824.61" x2="495.20" y2="824.61" stroke="#231815" stroke-width="1.4" />
<text x="456.00" y="828.71" font-size="16" fill="#231815" text-anchor="middle" font-weight="bold" font-family='"Liberation Sans",sans-serif' textLength="15.50" lengthAdjust="spacingAndGlyphs" stroke="#231815" stroke-width="0.45">10</text>
<line x1="447.30" y1="839.00" x2="495.20" y2="839.00" stroke="#231815" stroke-width="1.4" />
<line x1="447.30" y1="861.60" x2="495.20" y2="861.60" stroke="#231815" stroke-width="1.4" />
<line x1="465.00" y1="839.00" x2="465.00" y2="861.60" stroke="#231815" stroke-width="1.4" />
<rect x="471.50" y="839.00" width="23.70" height="22.60" fill="none" stroke="#231815" stroke-width="1.4"/>
<circle cx="483.35" cy="850.30" r="11.30" fill="none" stroke="#231815" stroke-width="1.4"/>
<line x1="481.75" y1="839.00" x2="481.75" y2="848.70" stroke="#231815" stroke-width="1.4" />
<line x1="481.75" y1="851.90" x2="481.75" y2="861.60" stroke="#231815" stroke-width="1.4" />
<line x1="484.95" y1="839.00" x2="484.95" y2="848.70" stroke="#231815" stroke-width="1.4" />
<line x1="484.95" y1="851.90" x2="484.95" y2="861.60" stroke="#231815" stroke-width="1.4" />
<line x1="471.50" y1="848.70" x2="481.75" y2="848.70" stroke="#231815" stroke-width="1.4" />
<line x1="484.95" y1="848.70" x2="495.20" y2="848.70" stroke="#231815" stroke-width="1.4" />
<line x1="471.50" y1="851.90" x2="481.75" y2="851.90" stroke="#231815" stroke-width="1.4" />
<line x1="484.95" y1="851.90" x2="495.20" y2="851.90" stroke="#231815" stroke-width="1.4" />
<text x="456.00" y="856.00" font-size="16" fill="#231815" text-anchor="middle" font-weight="bold" font-family='"Liberation Sans",sans-serif' textLength="15.50" lengthAdjust="spacingAndGlyphs" stroke="#231815" stroke-width="0.45">11</text>
<line x1="447.30" y1="866.29" x2="495.20" y2="866.29" stroke="#231815" stroke-width="1.4" />
<line x1="447.30" y1="888.89" x2="495.20" y2="888.89" stroke="#231815" stroke-width="1.4" />
<line x1="465.00" y1="866.29" x2="465.00" y2="888.89" stroke="#231815" stroke-width="1.4" />
<rect x="471.50" y="866.29" width="23.70" height="22.60" fill="none" stroke="#231815" stroke-width="1.4"/>
<circle cx="483.35" cy="877.59" r="11.30" fill="none" stroke="#231815" stroke-width="1.4"/>
<line x1="481.75" y1="866.29" x2="481.75" y2="875.99" stroke="#231815" stroke-width="1.4" />
<line x1="481.75" y1="879.19" x2="481.75" y2="888.89" stroke="#231815" stroke-width="1.4" />
<line x1="484.95" y1="866.29" x2="484.95" y2="875.99" stroke="#231815" stroke-width="1.4" />
<line x1="484.95" y1="879.19" x2="484.95" y2="888.89" stroke="#231815" stroke-width="1.4" />
<line x1="471.50" y1="875.99" x2="481.75" y2="875.99" stroke="#231815" stroke-width="1.4" />
<line x1="484.95" y1="875.99" x2="495.20" y2="875.99" stroke="#231815" stroke-width="1.4" />
<line x1="471.50" y1="879.19" x2="481.75" y2="879.19" stroke="#231815" stroke-width="1.4" />
<line x1="484.95" y1="879.19" x2="495.20" y2="879.19" stroke="#231815" stroke-width="1.4" />
<text x="456.00" y="883.29" font-size="16" fill="#231815" text-anchor="middle" font-weight="bold" font-family='"Liberation Sans",sans-serif' textLength="15.50" lengthAdjust="spacingAndGlyphs" stroke="#231815" stroke-width="0.45">12</text>
<line x1="685.10" y1="566.40" x2="785.50" y2="566.40" stroke="#231815" stroke-width="1.4" />
<line x1="685.10" y1="589.10" x2="785.50" y2="589.10" stroke="#231815" stroke-width="1.4" />
<line x1="703.90" y1="566.40" x2="703.90" y2="589.10" stroke="#231815" stroke-width="1.4" />
<line x1="767.10" y1="566.40" x2="767.10" y2="589.10" stroke="#231815" stroke-width="1.4" />
<rect x="710.00" y="566.40" width="23.50" height="22.70" fill="none" stroke="#231815" stroke-width="1.4"/>
<circle cx="721.75" cy="577.75" r="11.35" fill="none" stroke="#231815" stroke-width="1.4"/>
<line x1="720.15" y1="566.40" x2="720.15" y2="576.15" stroke="#231815" stroke-width="1.4" />
<line x1="720.15" y1="579.35" x2="720.15" y2="589.10" stroke="#231815" stroke-width="1.4" />
<line x1="723.35" y1="566.40" x2="723.35" y2="576.15" stroke="#231815" stroke-width="1.4" />
<line x1="723.35" y1="579.35" x2="723.35" y2="589.10" stroke="#231815" stroke-width="1.4" />
<line x1="710.00" y1="576.15" x2="720.15" y2="576.15" stroke="#231815" stroke-width="1.4" />
<line x1="723.35" y1="576.15" x2="733.50" y2="576.15" stroke="#231815" stroke-width="1.4" />
<line x1="710.00" y1="579.35" x2="720.15" y2="579.35" stroke="#231815" stroke-width="1.4" />
<line x1="723.35" y1="579.35" x2="733.50" y2="579.35" stroke="#231815" stroke-width="1.4" />
<rect x="737.00" y="566.40" width="24.00" height="22.70" fill="none" stroke="#231815" stroke-width="1.4"/>
<circle cx="749.00" cy="577.75" r="11.35" fill="none" stroke="#231815" stroke-width="1.4"/>
<line x1="747.40" y1="566.40" x2="747.40" y2="576.15" stroke="#231815" stroke-width="1.4" />
<line x1="747.40" y1="579.35" x2="747.40" y2="589.10" stroke="#231815" stroke-width="1.4" />
<line x1="750.60" y1="566.40" x2="750.60" y2="576.15" stroke="#231815" stroke-width="1.4" />
<line x1="750.60" y1="579.35" x2="750.60" y2="589.10" stroke="#231815" stroke-width="1.4" />
<line x1="737.00" y1="576.15" x2="747.40" y2="576.15" stroke="#231815" stroke-width="1.4" />
<line x1="750.60" y1="576.15" x2="761.00" y2="576.15" stroke="#231815" stroke-width="1.4" />
<line x1="737.00" y1="579.35" x2="747.40" y2="579.35" stroke="#231815" stroke-width="1.4" />
<line x1="750.60" y1="579.35" x2="761.00" y2="579.35" stroke="#231815" stroke-width="1.4" />
<text x="694.30" y="582.60" font-size="14.5" fill="#231815" text-anchor="middle" font-weight="bold" font-family='"Liberation Sans",sans-serif' textLength="13.50" lengthAdjust="spacingAndGlyphs" >25</text>
<text x="776.20" y="582.60" font-size="14.5" fill="#231815" text-anchor="middle" font-weight="bold" font-family='"Liberation Sans",sans-serif' textLength="13.50" lengthAdjust="spacingAndGlyphs" >13</text>
<line x1="685.10" y1="593.65" x2="785.50" y2="593.65" stroke="#231815" stroke-width="1.4" />
<line x1="685.10" y1="616.35" x2="785.50" y2="616.35" stroke="#231815" stroke-width="1.4" />
<line x1="703.90" y1="593.65" x2="703.90" y2="616.35" stroke="#231815" stroke-width="1.4" />
<line x1="767.10" y1="593.65" x2="767.10" y2="616.35" stroke="#231815" stroke-width="1.4" />
<rect x="710.00" y="593.65" width="23.50" height="22.70" fill="none" stroke="#231815" stroke-width="1.4"/>
<circle cx="721.75" cy="605.00" r="11.35" fill="none" stroke="#231815" stroke-width="1.4"/>
<line x1="720.15" y1="593.65" x2="720.15" y2="603.40" stroke="#231815" stroke-width="1.4" />
<line x1="720.15" y1="606.60" x2="720.15" y2="616.35" stroke="#231815" stroke-width="1.4" />
<line x1="723.35" y1="593.65" x2="723.35" y2="603.40" stroke="#231815" stroke-width="1.4" />
<line x1="723.35" y1="606.60" x2="723.35" y2="616.35" stroke="#231815" stroke-width="1.4" />
<line x1="710.00" y1="603.40" x2="720.15" y2="603.40" stroke="#231815" stroke-width="1.4" />
<line x1="723.35" y1="603.40" x2="733.50" y2="603.40" stroke="#231815" stroke-width="1.4" />
<line x1="710.00" y1="606.60" x2="720.15" y2="606.60" stroke="#231815" stroke-width="1.4" />
<line x1="723.35" y1="606.60" x2="733.50" y2="606.60" stroke="#231815" stroke-width="1.4" />
<rect x="737.00" y="593.65" width="24.00" height="22.70" fill="none" stroke="#231815" stroke-width="1.4"/>
<circle cx="749.00" cy="605.00" r="11.35" fill="none" stroke="#231815" stroke-width="1.4"/>
<line x1="747.40" y1="593.65" x2="747.40" y2="603.40" stroke="#231815" stroke-width="1.4" />
<line x1="747.40" y1="606.60" x2="747.40" y2="616.35" stroke="#231815" stroke-width="1.4" />
<line x1="750.60" y1="593.65" x2="750.60" y2="603.40" stroke="#231815" stroke-width="1.4" />
<line x1="750.60" y1="606.60" x2="750.60" y2="616.35" stroke="#231815" stroke-width="1.4" />
<line x1="737.00" y1="603.40" x2="747.40" y2="603.40" stroke="#231815" stroke-width="1.4" />
<line x1="750.60" y1="603.40" x2="761.00" y2="603.40" stroke="#231815" stroke-width="1.4" />
<line x1="737.00" y1="606.60" x2="747.40" y2="606.60" stroke="#231815" stroke-width="1.4" />
<line x1="750.60" y1="606.60" x2="761.00" y2="606.60" stroke="#231815" stroke-width="1.4" />
<text x="694.30" y="609.85" font-size="14.5" fill="#231815" text-anchor="middle" font-weight="bold" font-family='"Liberation Sans",sans-serif' textLength="13.50" lengthAdjust="spacingAndGlyphs" >26</text>
<text x="776.20" y="609.85" font-size="14.5" fill="#231815" text-anchor="middle" font-weight="bold" font-family='"Liberation Sans",sans-serif' textLength="13.50" lengthAdjust="spacingAndGlyphs" >14</text>
<line x1="685.10" y1="620.90" x2="785.50" y2="620.90" stroke="#231815" stroke-width="1.4" />
<line x1="685.10" y1="643.60" x2="785.50" y2="643.60" stroke="#231815" stroke-width="1.4" />
<line x1="703.90" y1="620.90" x2="703.90" y2="643.60" stroke="#231815" stroke-width="1.4" />
<line x1="767.10" y1="620.90" x2="767.10" y2="643.60" stroke="#231815" stroke-width="1.4" />
<rect x="710.00" y="620.90" width="23.50" height="22.70" fill="none" stroke="#231815" stroke-width="1.4"/>
<circle cx="721.75" cy="632.25" r="11.35" fill="none" stroke="#231815" stroke-width="1.4"/>
<line x1="720.15" y1="620.90" x2="720.15" y2="630.65" stroke="#231815" stroke-width="1.4" />
<line x1="720.15" y1="633.85" x2="720.15" y2="643.60" stroke="#231815" stroke-width="1.4" />
<line x1="723.35" y1="620.90" x2="723.35" y2="630.65" stroke="#231815" stroke-width="1.4" />
<line x1="723.35" y1="633.85" x2="723.35" y2="643.60" stroke="#231815" stroke-width="1.4" />
<line x1="710.00" y1="630.65" x2="720.15" y2="630.65" stroke="#231815" stroke-width="1.4" />
<line x1="723.35" y1="630.65" x2="733.50" y2="630.65" stroke="#231815" stroke-width="1.4" />
<line x1="710.00" y1="633.85" x2="720.15" y2="633.85" stroke="#231815" stroke-width="1.4" />
<line x1="723.35" y1="633.85" x2="733.50" y2="633.85" stroke="#231815" stroke-width="1.4" />
<rect x="737.00" y="620.90" width="24.00" height="22.70" fill="none" stroke="#231815" stroke-width="1.4"/>
<circle cx="749.00" cy="632.25" r="11.35" fill="none" stroke="#231815" stroke-width="1.4"/>
<line x1="747.40" y1="620.90" x2="747.40" y2="630.65" stroke="#231815" stroke-width="1.4" />
<line x1="747.40" y1="633.85" x2="747.40" y2="643.60" stroke="#231815" stroke-width="1.4" />
<line x1="750.60" y1="620.90" x2="750.60" y2="630.65" stroke="#231815" stroke-width="1.4" />
<line x1="750.60" y1="633.85" x2="750.60" y2="643.60" stroke="#231815" stroke-width="1.4" />
<line x1="737.00" y1="630.65" x2="747.40" y2="630.65" stroke="#231815" stroke-width="1.4" />
<line x1="750.60" y1="630.65" x2="761.00" y2="630.65" stroke="#231815" stroke-width="1.4" />
<line x1="737.00" y1="633.85" x2="747.40" y2="633.85" stroke="#231815" stroke-width="1.4" />
<line x1="750.60" y1="633.85" x2="761.00" y2="633.85" stroke="#231815" stroke-width="1.4" />
<text x="694.30" y="637.10" font-size="14.5" fill="#231815" text-anchor="middle" font-weight="bold" font-family='"Liberation Sans",sans-serif' textLength="13.50" lengthAdjust="spacingAndGlyphs" >27</text>
<text x="776.20" y="637.10" font-size="14.5" fill="#231815" text-anchor="middle" font-weight="bold" font-family='"Liberation Sans",sans-serif' textLength="13.50" lengthAdjust="spacingAndGlyphs" >15</text>
<line x1="685.10" y1="648.15" x2="785.50" y2="648.15" stroke="#231815" stroke-width="1.4" />
<line x1="685.10" y1="670.85" x2="785.50" y2="670.85" stroke="#231815" stroke-width="1.4" />
<line x1="703.90" y1="648.15" x2="703.90" y2="670.85" stroke="#231815" stroke-width="1.4" />
<line x1="767.10" y1="648.15" x2="767.10" y2="670.85" stroke="#231815" stroke-width="1.4" />
<rect x="710.00" y="648.15" width="23.50" height="22.70" fill="none" stroke="#231815" stroke-width="1.4"/>
<circle cx="721.75" cy="659.50" r="11.35" fill="none" stroke="#231815" stroke-width="1.4"/>
<line x1="720.15" y1="648.15" x2="720.15" y2="657.90" stroke="#231815" stroke-width="1.4" />
<line x1="720.15" y1="661.10" x2="720.15" y2="670.85" stroke="#231815" stroke-width="1.4" />
<line x1="723.35" y1="648.15" x2="723.35" y2="657.90" stroke="#231815" stroke-width="1.4" />
<line x1="723.35" y1="661.10" x2="723.35" y2="670.85" stroke="#231815" stroke-width="1.4" />
<line x1="710.00" y1="657.90" x2="720.15" y2="657.90" stroke="#231815" stroke-width="1.4" />
<line x1="723.35" y1="657.90" x2="733.50" y2="657.90" stroke="#231815" stroke-width="1.4" />
<line x1="710.00" y1="661.10" x2="720.15" y2="661.10" stroke="#231815" stroke-width="1.4" />
<line x1="723.35" y1="661.10" x2="733.50" y2="661.10" stroke="#231815" stroke-width="1.4" />
<rect x="737.00" y="648.15" width="24.00" height="22.70" fill="none" stroke="#231815" stroke-width="1.4"/>
<circle cx="749.00" cy="659.50" r="11.35" fill="none" stroke="#231815" stroke-width="1.4"/>
<line x1="747.40" y1="648.15" x2="747.40" y2="657.90" stroke="#231815" stroke-width="1.4" />
<line x1="747.40" y1="661.10" x2="747.40" y2="670.85" stroke="#231815" stroke-width="1.4" />
<line x1="750.60" y1="648.15" x2="750.60" y2="657.90" stroke="#231815" stroke-width="1.4" />
<line x1="750.60" y1="661.10" x2="750.60" y2="670.85" stroke="#231815" stroke-width="1.4" />
<line x1="737.00" y1="657.90" x2="747.40" y2="657.90" stroke="#231815" stroke-width="1.4" />
<line x1="750.60" y1="657.90" x2="761.00" y2="657.90" stroke="#231815" stroke-width="1.4" />
<line x1="737.00" y1="661.10" x2="747.40" y2="661.10" stroke="#231815" stroke-width="1.4" />
<line x1="750.60" y1="661.10" x2="761.00" y2="661.10" stroke="#231815" stroke-width="1.4" />
<text x="694.30" y="664.35" font-size="14.5" fill="#231815" text-anchor="middle" font-weight="bold" font-family='"Liberation Sans",sans-serif' textLength="13.50" lengthAdjust="spacingAndGlyphs" >28</text>
<text x="776.20" y="664.35" font-size="14.5" fill="#231815" text-anchor="middle" font-weight="bold" font-family='"Liberation Sans",sans-serif' textLength="13.50" lengthAdjust="spacingAndGlyphs" >16</text>
<line x1="685.10" y1="675.40" x2="785.50" y2="675.40" stroke="#231815" stroke-width="1.4" />
<line x1="685.10" y1="698.10" x2="785.50" y2="698.10" stroke="#231815" stroke-width="1.4" />
<line x1="703.90" y1="675.40" x2="703.90" y2="698.10" stroke="#231815" stroke-width="1.4" />
<line x1="767.10" y1="675.40" x2="767.10" y2="698.10" stroke="#231815" stroke-width="1.4" />
<rect x="710.00" y="675.40" width="23.50" height="22.70" fill="none" stroke="#231815" stroke-width="1.4"/>
<circle cx="721.75" cy="686.75" r="11.35" fill="none" stroke="#231815" stroke-width="1.4"/>
<line x1="720.15" y1="675.40" x2="720.15" y2="685.15" stroke="#231815" stroke-width="1.4" />
<line x1="720.15" y1="688.35" x2="720.15" y2="698.10" stroke="#231815" stroke-width="1.4" />
<line x1="723.35" y1="675.40" x2="723.35" y2="685.15" stroke="#231815" stroke-width="1.4" />
<line x1="723.35" y1="688.35" x2="723.35" y2="698.10" stroke="#231815" stroke-width="1.4" />
<line x1="710.00" y1="685.15" x2="720.15" y2="685.15" stroke="#231815" stroke-width="1.4" />
<line x1="723.35" y1="685.15" x2="733.50" y2="685.15" stroke="#231815" stroke-width="1.4" />
<line x1="710.00" y1="688.35" x2="720.15" y2="688.35" stroke="#231815" stroke-width="1.4" />
<line x1="723.35" y1="688.35" x2="733.50" y2="688.35" stroke="#231815" stroke-width="1.4" />
<rect x="737.00" y="675.40" width="24.00" height="22.70" fill="none" stroke="#231815" stroke-width="1.4"/>
<circle cx="749.00" cy="686.75" r="11.35" fill="none" stroke="#231815" stroke-width="1.4"/>
<line x1="747.40" y1="675.40" x2="747.40" y2="685.15" stroke="#231815" stroke-width="1.4" />
<line x1="747.40" y1="688.35" x2="747.40" y2="698.10" stroke="#231815" stroke-width="1.4" />
<line x1="750.60" y1="675.40" x2="750.60" y2="685.15" stroke="#231815" stroke-width="1.4" />
<line x1="750.60" y1="688.35" x2="750.60" y2="698.10" stroke="#231815" stroke-width="1.4" />
<line x1="737.00" y1="685.15" x2="747.40" y2="685.15" stroke="#231815" stroke-width="1.4" />
<line x1="750.60" y1="685.15" x2="761.00" y2="685.15" stroke="#231815" stroke-width="1.4" />
<line x1="737.00" y1="688.35" x2="747.40" y2="688.35" stroke="#231815" stroke-width="1.4" />
<line x1="750.60" y1="688.35" x2="761.00" y2="688.35" stroke="#231815" stroke-width="1.4" />
<text x="694.30" y="691.60" font-size="14.5" fill="#231815" text-anchor="middle" font-weight="bold" font-family='"Liberation Sans",sans-serif' textLength="13.50" lengthAdjust="spacingAndGlyphs" >29</text>
<text x="776.20" y="691.60" font-size="14.5" fill="#231815" text-anchor="middle" font-weight="bold" font-family='"Liberation Sans",sans-serif' textLength="13.50" lengthAdjust="spacingAndGlyphs" >17</text>
<line x1="685.10" y1="702.65" x2="785.50" y2="702.65" stroke="#231815" stroke-width="1.4" />
<line x1="685.10" y1="725.35" x2="785.50" y2="725.35" stroke="#231815" stroke-width="1.4" />
<line x1="703.90" y1="702.65" x2="703.90" y2="725.35" stroke="#231815" stroke-width="1.4" />
<line x1="767.10" y1="702.65" x2="767.10" y2="725.35" stroke="#231815" stroke-width="1.4" />
<rect x="710.00" y="702.65" width="23.50" height="22.70" fill="none" stroke="#231815" stroke-width="1.4"/>
<circle cx="721.75" cy="714.00" r="11.35" fill="none" stroke="#231815" stroke-width="1.4"/>
<line x1="720.15" y1="702.65" x2="720.15" y2="712.40" stroke="#231815" stroke-width="1.4" />
<line x1="720.15" y1="715.60" x2="720.15" y2="725.35" stroke="#231815" stroke-width="1.4" />
<line x1="723.35" y1="702.65" x2="723.35" y2="712.40" stroke="#231815" stroke-width="1.4" />
<line x1="723.35" y1="715.60" x2="723.35" y2="725.35" stroke="#231815" stroke-width="1.4" />
<line x1="710.00" y1="712.40" x2="720.15" y2="712.40" stroke="#231815" stroke-width="1.4" />
<line x1="723.35" y1="712.40" x2="733.50" y2="712.40" stroke="#231815" stroke-width="1.4" />
<line x1="710.00" y1="715.60" x2="720.15" y2="715.60" stroke="#231815" stroke-width="1.4" />
<line x1="723.35" y1="715.60" x2="733.50" y2="715.60" stroke="#231815" stroke-width="1.4" />
<rect x="737.00" y="702.65" width="24.00" height="22.70" fill="none" stroke="#231815" stroke-width="1.4"/>
<circle cx="749.00" cy="714.00" r="11.35" fill="none" stroke="#231815" stroke-width="1.4"/>
<line x1="747.40" y1="702.65" x2="747.40" y2="712.40" stroke="#231815" stroke-width="1.4" />
<line x1="747.40" y1="715.60" x2="747.40" y2="725.35" stroke="#231815" stroke-width="1.4" />
<line x1="750.60" y1="702.65" x2="750.60" y2="712.40" stroke="#231815" stroke-width="1.4" />
<line x1="750.60" y1="715.60" x2="750.60" y2="725.35" stroke="#231815" stroke-width="1.4" />
<line x1="737.00" y1="712.40" x2="747.40" y2="712.40" stroke="#231815" stroke-width="1.4" />
<line x1="750.60" y1="712.40" x2="761.00" y2="712.40" stroke="#231815" stroke-width="1.4" />
<line x1="737.00" y1="715.60" x2="747.40" y2="715.60" stroke="#231815" stroke-width="1.4" />
<line x1="750.60" y1="715.60" x2="761.00" y2="715.60" stroke="#231815" stroke-width="1.4" />
<text x="694.30" y="718.85" font-size="14.5" fill="#231815" text-anchor="middle" font-weight="bold" font-family='"Liberation Sans",sans-serif' textLength="13.50" lengthAdjust="spacingAndGlyphs" >30</text>
<text x="776.20" y="718.85" font-size="14.5" fill="#231815" text-anchor="middle" font-weight="bold" font-family='"Liberation Sans",sans-serif' textLength="13.50" lengthAdjust="spacingAndGlyphs" >18</text>
<line x1="685.10" y1="729.90" x2="785.50" y2="729.90" stroke="#231815" stroke-width="1.4" />
<line x1="685.10" y1="752.60" x2="785.50" y2="752.60" stroke="#231815" stroke-width="1.4" />
<line x1="703.90" y1="729.90" x2="703.90" y2="752.60" stroke="#231815" stroke-width="1.4" />
<line x1="767.10" y1="729.90" x2="767.10" y2="752.60" stroke="#231815" stroke-width="1.4" />
<rect x="710.00" y="729.90" width="23.50" height="22.70" fill="none" stroke="#231815" stroke-width="1.4"/>
<circle cx="721.75" cy="741.25" r="11.35" fill="none" stroke="#231815" stroke-width="1.4"/>
<line x1="720.15" y1="729.90" x2="720.15" y2="739.65" stroke="#231815" stroke-width="1.4" />
<line x1="720.15" y1="742.85" x2="720.15" y2="752.60" stroke="#231815" stroke-width="1.4" />
<line x1="723.35" y1="729.90" x2="723.35" y2="739.65" stroke="#231815" stroke-width="1.4" />
<line x1="723.35" y1="742.85" x2="723.35" y2="752.60" stroke="#231815" stroke-width="1.4" />
<line x1="710.00" y1="739.65" x2="720.15" y2="739.65" stroke="#231815" stroke-width="1.4" />
<line x1="723.35" y1="739.65" x2="733.50" y2="739.65" stroke="#231815" stroke-width="1.4" />
<line x1="710.00" y1="742.85" x2="720.15" y2="742.85" stroke="#231815" stroke-width="1.4" />
<line x1="723.35" y1="742.85" x2="733.50" y2="742.85" stroke="#231815" stroke-width="1.4" />
<rect x="737.00" y="729.90" width="24.00" height="22.70" fill="none" stroke="#231815" stroke-width="1.4"/>
<circle cx="749.00" cy="741.25" r="11.35" fill="none" stroke="#231815" stroke-width="1.4"/>
<line x1="747.40" y1="729.90" x2="747.40" y2="739.65" stroke="#231815" stroke-width="1.4" />
<line x1="747.40" y1="742.85" x2="747.40" y2="752.60" stroke="#231815" stroke-width="1.4" />
<line x1="750.60" y1="729.90" x2="750.60" y2="739.65" stroke="#231815" stroke-width="1.4" />
<line x1="750.60" y1="742.85" x2="750.60" y2="752.60" stroke="#231815" stroke-width="1.4" />
<line x1="737.00" y1="739.65" x2="747.40" y2="739.65" stroke="#231815" stroke-width="1.4" />
<line x1="750.60" y1="739.65" x2="761.00" y2="739.65" stroke="#231815" stroke-width="1.4" />
<line x1="737.00" y1="742.85" x2="747.40" y2="742.85" stroke="#231815" stroke-width="1.4" />
<line x1="750.60" y1="742.85" x2="761.00" y2="742.85" stroke="#231815" stroke-width="1.4" />
<text x="694.30" y="746.10" font-size="14.5" fill="#231815" text-anchor="middle" font-weight="bold" font-family='"Liberation Sans",sans-serif' textLength="13.50" lengthAdjust="spacingAndGlyphs" >31</text>
<text x="776.20" y="746.10" font-size="14.5" fill="#231815" text-anchor="middle" font-weight="bold" font-family='"Liberation Sans",sans-serif' textLength="13.50" lengthAdjust="spacingAndGlyphs" >19</text>
<line x1="685.10" y1="757.15" x2="785.50" y2="757.15" stroke="#231815" stroke-width="1.4" />
<line x1="685.10" y1="779.85" x2="785.50" y2="779.85" stroke="#231815" stroke-width="1.4" />
<line x1="703.90" y1="757.15" x2="703.90" y2="779.85" stroke="#231815" stroke-width="1.4" />
<line x1="767.10" y1="757.15" x2="767.10" y2="779.85" stroke="#231815" stroke-width="1.4" />
<rect x="710.00" y="757.15" width="23.50" height="22.70" fill="none" stroke="#231815" stroke-width="1.4"/>
<circle cx="721.75" cy="768.50" r="11.35" fill="none" stroke="#231815" stroke-width="1.4"/>
<line x1="720.15" y1="757.15" x2="720.15" y2="766.90" stroke="#231815" stroke-width="1.4" />
<line x1="720.15" y1="770.10" x2="720.15" y2="779.85" stroke="#231815" stroke-width="1.4" />
<line x1="723.35" y1="757.15" x2="723.35" y2="766.90" stroke="#231815" stroke-width="1.4" />
<line x1="723.35" y1="770.10" x2="723.35" y2="779.85" stroke="#231815" stroke-width="1.4" />
<line x1="710.00" y1="766.90" x2="720.15" y2="766.90" stroke="#231815" stroke-width="1.4" />
<line x1="723.35" y1="766.90" x2="733.50" y2="766.90" stroke="#231815" stroke-width="1.4" />
<line x1="710.00" y1="770.10" x2="720.15" y2="770.10" stroke="#231815" stroke-width="1.4" />
<line x1="723.35" y1="770.10" x2="733.50" y2="770.10" stroke="#231815" stroke-width="1.4" />
<rect x="737.00" y="757.15" width="24.00" height="22.70" fill="none" stroke="#231815" stroke-width="1.4"/>
<circle cx="749.00" cy="768.50" r="11.35" fill="none" stroke="#231815" stroke-width="1.4"/>
<line x1="747.40" y1="757.15" x2="747.40" y2="766.90" stroke="#231815" stroke-width="1.4" />
<line x1="747.40" y1="770.10" x2="747.40" y2="779.85" stroke="#231815" stroke-width="1.4" />
<line x1="750.60" y1="757.15" x2="750.60" y2="766.90" stroke="#231815" stroke-width="1.4" />
<line x1="750.60" y1="770.10" x2="750.60" y2="779.85" stroke="#231815" stroke-width="1.4" />
<line x1="737.00" y1="766.90" x2="747.40" y2="766.90" stroke="#231815" stroke-width="1.4" />
<line x1="750.60" y1="766.90" x2="761.00" y2="766.90" stroke="#231815" stroke-width="1.4" />
<line x1="737.00" y1="770.10" x2="747.40" y2="770.10" stroke="#231815" stroke-width="1.4" />
<line x1="750.60" y1="770.10" x2="761.00" y2="770.10" stroke="#231815" stroke-width="1.4" />
<text x="694.30" y="773.35" font-size="14.5" fill="#231815" text-anchor="middle" font-weight="bold" font-family='"Liberation Sans",sans-serif' textLength="13.50" lengthAdjust="spacingAndGlyphs" >32</text>
<text x="776.20" y="773.35" font-size="14.5" fill="#231815" text-anchor="middle" font-weight="bold" font-family='"Liberation Sans",sans-serif' textLength="13.50" lengthAdjust="spacingAndGlyphs" >20</text>
<line x1="685.10" y1="784.40" x2="785.50" y2="784.40" stroke="#231815" stroke-width="1.4" />
<line x1="685.10" y1="807.10" x2="785.50" y2="807.10" stroke="#231815" stroke-width="1.4" />
<line x1="703.90" y1="784.40" x2="703.90" y2="807.10" stroke="#231815" stroke-width="1.4" />
<line x1="767.10" y1="784.40" x2="767.10" y2="807.10" stroke="#231815" stroke-width="1.4" />
<rect x="710.00" y="784.40" width="23.50" height="22.70" fill="none" stroke="#231815" stroke-width="1.4"/>
<circle cx="721.75" cy="795.75" r="11.35" fill="none" stroke="#231815" stroke-width="1.4"/>
<line x1="720.15" y1="784.40" x2="720.15" y2="794.15" stroke="#231815" stroke-width="1.4" />
<line x1="720.15" y1="797.35" x2="720.15" y2="807.10" stroke="#231815" stroke-width="1.4" />
<line x1="723.35" y1="784.40" x2="723.35" y2="794.15" stroke="#231815" stroke-width="1.4" />
<line x1="723.35" y1="797.35" x2="723.35" y2="807.10" stroke="#231815" stroke-width="1.4" />
<line x1="710.00" y1="794.15" x2="720.15" y2="794.15" stroke="#231815" stroke-width="1.4" />
<line x1="723.35" y1="794.15" x2="733.50" y2="794.15" stroke="#231815" stroke-width="1.4" />
<line x1="710.00" y1="797.35" x2="720.15" y2="797.35" stroke="#231815" stroke-width="1.4" />
<line x1="723.35" y1="797.35" x2="733.50" y2="797.35" stroke="#231815" stroke-width="1.4" />
<rect x="737.00" y="784.40" width="24.00" height="22.70" fill="none" stroke="#231815" stroke-width="1.4"/>
<circle cx="749.00" cy="795.75" r="11.35" fill="none" stroke="#231815" stroke-width="1.4"/>
<line x1="747.40" y1="784.40" x2="747.40" y2="794.15" stroke="#231815" stroke-width="1.4" />
<line x1="747.40" y1="797.35" x2="747.40" y2="807.10" stroke="#231815" stroke-width="1.4" />
<line x1="750.60" y1="784.40" x2="750.60" y2="794.15" stroke="#231815" stroke-width="1.4" />
<line x1="750.60" y1="797.35" x2="750.60" y2="807.10" stroke="#231815" stroke-width="1.4" />
<line x1="737.00" y1="794.15" x2="747.40" y2="794.15" stroke="#231815" stroke-width="1.4" />
<line x1="750.60" y1="794.15" x2="761.00" y2="794.15" stroke="#231815" stroke-width="1.4" />
<line x1="737.00" y1="797.35" x2="747.40" y2="797.35" stroke="#231815" stroke-width="1.4" />
<line x1="750.60" y1="797.35" x2="761.00" y2="797.35" stroke="#231815" stroke-width="1.4" />
<text x="694.30" y="800.60" font-size="14.5" fill="#231815" text-anchor="middle" font-weight="bold" font-family='"Liberation Sans",sans-serif' textLength="13.50" lengthAdjust="spacingAndGlyphs" >33</text>
<text x="776.20" y="800.60" font-size="14.5" fill="#231815" text-anchor="middle" font-weight="bold" font-family='"Liberation Sans",sans-serif' textLength="13.50" lengthAdjust="spacingAndGlyphs" >21</text>
<line x1="685.10" y1="811.65" x2="785.50" y2="811.65" stroke="#231815" stroke-width="1.4" />
<line x1="685.10" y1="834.35" x2="785.50" y2="834.35" stroke="#231815" stroke-width="1.4" />
<line x1="703.90" y1="811.65" x2="703.90" y2="834.35" stroke="#231815" stroke-width="1.4" />
<line x1="767.10" y1="811.65" x2="767.10" y2="834.35" stroke="#231815" stroke-width="1.4" />
<rect x="710.00" y="811.65" width="23.50" height="22.70" fill="none" stroke="#231815" stroke-width="1.4"/>
<circle cx="721.75" cy="823.00" r="11.35" fill="none" stroke="#231815" stroke-width="1.4"/>
<line x1="720.15" y1="811.65" x2="720.15" y2="821.40" stroke="#231815" stroke-width="1.4" />
<line x1="720.15" y1="824.60" x2="720.15" y2="834.35" stroke="#231815" stroke-width="1.4" />
<line x1="723.35" y1="811.65" x2="723.35" y2="821.40" stroke="#231815" stroke-width="1.4" />
<line x1="723.35" y1="824.60" x2="723.35" y2="834.35" stroke="#231815" stroke-width="1.4" />
<line x1="710.00" y1="821.40" x2="720.15" y2="821.40" stroke="#231815" stroke-width="1.4" />
<line x1="723.35" y1="821.40" x2="733.50" y2="821.40" stroke="#231815" stroke-width="1.4" />
<line x1="710.00" y1="824.60" x2="720.15" y2="824.60" stroke="#231815" stroke-width="1.4" />
<line x1="723.35" y1="824.60" x2="733.50" y2="824.60" stroke="#231815" stroke-width="1.4" />
<rect x="737.00" y="811.65" width="24.00" height="22.70" fill="none" stroke="#231815" stroke-width="1.4"/>
<circle cx="749.00" cy="823.00" r="11.35" fill="none" stroke="#231815" stroke-width="1.4"/>
<line x1="747.40" y1="811.65" x2="747.40" y2="821.40" stroke="#231815" stroke-width="1.4" />
<line x1="747.40" y1="824.60" x2="747.40" y2="834.35" stroke="#231815" stroke-width="1.4" />
<line x1="750.60" y1="811.65" x2="750.60" y2="821.40" stroke="#231815" stroke-width="1.4" />
<line x1="750.60" y1="824.60" x2="750.60" y2="834.35" stroke="#231815" stroke-width="1.4" />
<line x1="737.00" y1="821.40" x2="747.40" y2="821.40" stroke="#231815" stroke-width="1.4" />
<line x1="750.60" y1="821.40" x2="761.00" y2="821.40" stroke="#231815" stroke-width="1.4" />
<line x1="737.00" y1="824.60" x2="747.40" y2="824.60" stroke="#231815" stroke-width="1.4" />
<line x1="750.60" y1="824.60" x2="761.00" y2="824.60" stroke="#231815" stroke-width="1.4" />
<text x="694.30" y="827.85" font-size="14.5" fill="#231815" text-anchor="middle" font-weight="bold" font-family='"Liberation Sans",sans-serif' textLength="13.50" lengthAdjust="spacingAndGlyphs" >34</text>
<text x="776.20" y="825.25" font-size="14.5" fill="#231815" text-anchor="middle" font-weight="bold" font-family='"Liberation Sans",sans-serif' textLength="13.50" lengthAdjust="spacingAndGlyphs" >22</text>
<line x1="685.10" y1="838.90" x2="785.50" y2="838.90" stroke="#231815" stroke-width="1.4" />
<line x1="685.10" y1="861.60" x2="785.50" y2="861.60" stroke="#231815" stroke-width="1.4" />
<line x1="703.90" y1="838.90" x2="703.90" y2="861.60" stroke="#231815" stroke-width="1.4" />
<line x1="767.10" y1="838.90" x2="767.10" y2="861.60" stroke="#231815" stroke-width="1.4" />
<rect x="710.00" y="838.90" width="23.50" height="22.70" fill="none" stroke="#231815" stroke-width="1.4"/>
<circle cx="721.75" cy="850.25" r="11.35" fill="none" stroke="#231815" stroke-width="1.4"/>
<line x1="720.15" y1="838.90" x2="720.15" y2="848.65" stroke="#231815" stroke-width="1.4" />
<line x1="720.15" y1="851.85" x2="720.15" y2="861.60" stroke="#231815" stroke-width="1.4" />
<line x1="723.35" y1="838.90" x2="723.35" y2="848.65" stroke="#231815" stroke-width="1.4" />
<line x1="723.35" y1="851.85" x2="723.35" y2="861.60" stroke="#231815" stroke-width="1.4" />
<line x1="710.00" y1="848.65" x2="720.15" y2="848.65" stroke="#231815" stroke-width="1.4" />
<line x1="723.35" y1="848.65" x2="733.50" y2="848.65" stroke="#231815" stroke-width="1.4" />
<line x1="710.00" y1="851.85" x2="720.15" y2="851.85" stroke="#231815" stroke-width="1.4" />
<line x1="723.35" y1="851.85" x2="733.50" y2="851.85" stroke="#231815" stroke-width="1.4" />
<rect x="737.00" y="838.90" width="24.00" height="22.70" fill="none" stroke="#231815" stroke-width="1.4"/>
<circle cx="749.00" cy="850.25" r="11.35" fill="none" stroke="#231815" stroke-width="1.4"/>
<line x1="747.40" y1="838.90" x2="747.40" y2="848.65" stroke="#231815" stroke-width="1.4" />
<line x1="747.40" y1="851.85" x2="747.40" y2="861.60" stroke="#231815" stroke-width="1.4" />
<line x1="750.60" y1="838.90" x2="750.60" y2="848.65" stroke="#231815" stroke-width="1.4" />
<line x1="750.60" y1="851.85" x2="750.60" y2="861.60" stroke="#231815" stroke-width="1.4" />
<line x1="737.00" y1="848.65" x2="747.40" y2="848.65" stroke="#231815" stroke-width="1.4" />
<line x1="750.60" y1="848.65" x2="761.00" y2="848.65" stroke="#231815" stroke-width="1.4" />
<line x1="737.00" y1="851.85" x2="747.40" y2="851.85" stroke="#231815" stroke-width="1.4" />
<line x1="750.60" y1="851.85" x2="761.00" y2="851.85" stroke="#231815" stroke-width="1.4" />
<text x="694.30" y="855.10" font-size="14.5" fill="#231815" text-anchor="middle" font-weight="bold" font-family='"Liberation Sans",sans-serif' textLength="13.50" lengthAdjust="spacingAndGlyphs" >35</text>
<text x="776.20" y="852.50" font-size="14.5" fill="#231815" text-anchor="middle" font-weight="bold" font-family='"Liberation Sans",sans-serif' textLength="13.50" lengthAdjust="spacingAndGlyphs" >23</text>
<line x1="685.10" y1="866.15" x2="785.50" y2="866.15" stroke="#231815" stroke-width="1.4" />
<line x1="685.10" y1="888.85" x2="785.50" y2="888.85" stroke="#231815" stroke-width="1.4" />
<line x1="703.90" y1="866.15" x2="703.90" y2="888.85" stroke="#231815" stroke-width="1.4" />
<line x1="767.10" y1="866.15" x2="767.10" y2="888.85" stroke="#231815" stroke-width="1.4" />
<rect x="710.00" y="866.15" width="23.50" height="22.70" fill="none" stroke="#231815" stroke-width="1.4"/>
<circle cx="721.75" cy="877.50" r="11.35" fill="none" stroke="#231815" stroke-width="1.4"/>
<line x1="720.15" y1="866.15" x2="720.15" y2="875.90" stroke="#231815" stroke-width="1.4" />
<line x1="720.15" y1="879.10" x2="720.15" y2="888.85" stroke="#231815" stroke-width="1.4" />
<line x1="723.35" y1="866.15" x2="723.35" y2="875.90" stroke="#231815" stroke-width="1.4" />
<line x1="723.35" y1="879.10" x2="723.35" y2="888.85" stroke="#231815" stroke-width="1.4" />
<line x1="710.00" y1="875.90" x2="720.15" y2="875.90" stroke="#231815" stroke-width="1.4" />
<line x1="723.35" y1="875.90" x2="733.50" y2="875.90" stroke="#231815" stroke-width="1.4" />
<line x1="710.00" y1="879.10" x2="720.15" y2="879.10" stroke="#231815" stroke-width="1.4" />
<line x1="723.35" y1="879.10" x2="733.50" y2="879.10" stroke="#231815" stroke-width="1.4" />
<rect x="737.00" y="866.15" width="24.00" height="22.70" fill="none" stroke="#231815" stroke-width="1.4"/>
<circle cx="749.00" cy="877.50" r="11.35" fill="none" stroke="#231815" stroke-width="1.4"/>
<line x1="747.40" y1="866.15" x2="747.40" y2="875.90" stroke="#231815" stroke-width="1.4" />
<line x1="747.40" y1="879.10" x2="747.40" y2="888.85" stroke="#231815" stroke-width="1.4" />
<line x1="750.60" y1="866.15" x2="750.60" y2="875.90" stroke="#231815" stroke-width="1.4" />
<line x1="750.60" y1="879.10" x2="750.60" y2="888.85" stroke="#231815" stroke-width="1.4" />
<line x1="737.00" y1="875.90" x2="747.40" y2="875.90" stroke="#231815" stroke-width="1.4" />
<line x1="750.60" y1="875.90" x2="761.00" y2="875.90" stroke="#231815" stroke-width="1.4" />
<line x1="737.00" y1="879.10" x2="747.40" y2="879.10" stroke="#231815" stroke-width="1.4" />
<line x1="750.60" y1="879.10" x2="761.00" y2="879.10" stroke="#231815" stroke-width="1.4" />
<text x="695.20" y="882.35" font-size="14.5" fill="#231815" text-anchor="middle" font-weight="bold" font-family='"Liberation Sans",sans-serif' textLength="13.50" lengthAdjust="spacingAndGlyphs" >36</text>
<text x="776.20" y="879.75" font-size="14.5" fill="#231815" text-anchor="middle" font-weight="bold" font-family='"Liberation Sans",sans-serif' textLength="13.50" lengthAdjust="spacingAndGlyphs" >24</text>
<line x1="447.30" y1="883.20" x2="447.30" y2="883.20" stroke="#231815" stroke-width="1.4" />
<circle cx="483.90" cy="882.60" r="5.40" fill="#231815"/>
<text x="813.40" y="816.00" font-size="14.2" fill="#231815" text-anchor="middle" font-weight="normal" font-family='"Liberation Sans",sans-serif' textLength="8.40" lengthAdjust="spacingAndGlyphs" stroke="#231815" stroke-width="0.3">A</text>
<text x="813.00" y="843.90" font-size="12.5" fill="#231815" text-anchor="middle" font-weight="normal" font-family='"Liberation Sans",sans-serif' textLength="7.40" lengthAdjust="spacingAndGlyphs" stroke="#231815" stroke-width="0.3">B</text>
<text x="813.00" y="874.90" font-size="12.5" fill="#231815" text-anchor="middle" font-weight="normal" font-family='"Liberation Sans",sans-serif' textLength="7.40" lengthAdjust="spacingAndGlyphs" stroke="#231815" stroke-width="0.3">B</text>
<line x1="611.70" y1="408.50" x2="621.20" y2="408.50" stroke="#8c8c8c" stroke-width="1.6" />
<line x1="639.40" y1="408.50" x2="657.00" y2="408.50" stroke="#8c8c8c" stroke-width="1.6" />
<line x1="675.70" y1="408.50" x2="693.30" y2="408.50" stroke="#8c8c8c" stroke-width="1.6" />
<line x1="712.00" y1="408.50" x2="729.60" y2="408.50" stroke="#8c8c8c" stroke-width="1.6" />
<line x1="748.30" y1="408.50" x2="765.90" y2="408.50" stroke="#8c8c8c" stroke-width="1.6" />
<line x1="784.60" y1="408.50" x2="802.20" y2="408.50" stroke="#8c8c8c" stroke-width="1.6" />
<line x1="820.90" y1="408.50" x2="838.50" y2="408.50" stroke="#8c8c8c" stroke-width="1.6" />
<line x1="857.20" y1="408.50" x2="874.80" y2="408.50" stroke="#8c8c8c" stroke-width="1.6" />
<line x1="893.50" y1="408.50" x2="911.10" y2="408.50" stroke="#8c8c8c" stroke-width="1.6" />
<line x1="929.80" y1="408.50" x2="947.40" y2="408.50" stroke="#8c8c8c" stroke-width="1.6" />
<line x1="965.30" y1="408.50" x2="974.40" y2="408.50" stroke="#8c8c8c" stroke-width="1.6" />
<line x1="611.70" y1="529.60" x2="621.20" y2="529.60" stroke="#8c8c8c" stroke-width="1.6" />
<line x1="639.40" y1="529.60" x2="657.00" y2="529.60" stroke="#8c8c8c" stroke-width="1.6" />
<line x1="675.70" y1="529.60" x2="693.30" y2="529.60" stroke="#8c8c8c" stroke-width="1.6" />
<line x1="712.00" y1="529.60" x2="729.60" y2="529.60" stroke="#8c8c8c" stroke-width="1.6" />
<line x1="748.30" y1="529.60" x2="765.90" y2="529.60" stroke="#8c8c8c" stroke-width="1.6" />
<line x1="784.60" y1="529.60" x2="802.20" y2="529.60" stroke="#8c8c8c" stroke-width="1.6" />
<line x1="820.90" y1="529.60" x2="838.50" y2="529.60" stroke="#8c8c8c" stroke-width="1.6" />
<line x1="857.20" y1="529.60" x2="874.80" y2="529.60" stroke="#8c8c8c" stroke-width="1.6" />
<line x1="893.50" y1="529.60" x2="911.10" y2="529.60" stroke="#8c8c8c" stroke-width="1.6" />
<line x1="929.80" y1="529.60" x2="947.40" y2="529.60" stroke="#8c8c8c" stroke-width="1.6" />
<line x1="965.30" y1="529.60" x2="974.40" y2="529.60" stroke="#8c8c8c" stroke-width="1.6" />
<line x1="611.70" y1="408.50" x2="611.70" y2="417.60" stroke="#8c8c8c" stroke-width="1.6" />
<line x1="611.70" y1="438.40" x2="611.70" y2="458.30" stroke="#8c8c8c" stroke-width="1.6" />
<line x1="611.70" y1="479.30" x2="611.70" y2="499.80" stroke="#8c8c8c" stroke-width="1.6" />
<line x1="611.70" y1="520.70" x2="611.70" y2="529.60" stroke="#8c8c8c" stroke-width="1.6" />
<line x1="974.40" y1="408.50" x2="974.40" y2="417.60" stroke="#8c8c8c" stroke-width="1.6" />
<line x1="974.40" y1="438.40" x2="974.40" y2="458.30" stroke="#8c8c8c" stroke-width="1.6" />
<line x1="974.40" y1="479.30" x2="974.40" y2="499.80" stroke="#8c8c8c" stroke-width="1.6" />
<line x1="974.40" y1="520.70" x2="974.40" y2="529.60" stroke="#8c8c8c" stroke-width="1.6" />
<text x="628.60" y="429.80" font-size="15.4" fill="#231815" text-anchor="start" font-weight="normal" font-family='"Liberation Sans",sans-serif' textLength="76.50" lengthAdjust="spacingAndGlyphs" >热电阻输入</text>
<line x1="628.00" y1="438.80" x2="676.20" y2="438.80" stroke="#231815" stroke-width="1.3" />
<line x1="628.00" y1="461.90" x2="676.20" y2="461.90" stroke="#231815" stroke-width="1.3" />
<line x1="646.30" y1="438.80" x2="646.30" y2="461.90" stroke="#231815" stroke-width="1.3" />
<rect x="652.60" y="438.80" width="23.60" height="23.10" fill="none" stroke="#231815" stroke-width="1.3"/>
<circle cx="664.40" cy="450.35" r="11.55" fill="none" stroke="#231815" stroke-width="1.3"/>
<line x1="662.80" y1="438.80" x2="662.80" y2="448.75" stroke="#231815" stroke-width="1.3" />
<line x1="662.80" y1="451.95" x2="662.80" y2="461.90" stroke="#231815" stroke-width="1.3" />
<line x1="666.00" y1="438.80" x2="666.00" y2="448.75" stroke="#231815" stroke-width="1.3" />
<line x1="666.00" y1="451.95" x2="666.00" y2="461.90" stroke="#231815" stroke-width="1.3" />
<line x1="652.60" y1="448.75" x2="662.80" y2="448.75" stroke="#231815" stroke-width="1.3" />
<line x1="666.00" y1="448.75" x2="676.20" y2="448.75" stroke="#231815" stroke-width="1.3" />
<line x1="652.60" y1="451.95" x2="662.80" y2="451.95" stroke="#231815" stroke-width="1.3" />
<line x1="666.00" y1="451.95" x2="676.20" y2="451.95" stroke="#231815" stroke-width="1.3" />
<text x="635.40" y="455.60" font-size="13.2" fill="#231815" text-anchor="middle" font-weight="bold" font-family='"Liberation Sans",sans-serif' textLength="13.20" lengthAdjust="spacingAndGlyphs" stroke="#231815" stroke-width="0.25">22</text>
<line x1="628.00" y1="466.10" x2="676.20" y2="466.10" stroke="#231815" stroke-width="1.3" />
<line x1="628.00" y1="488.80" x2="676.20" y2="488.80" stroke="#231815" stroke-width="1.3" />
<line x1="646.30" y1="466.10" x2="646.30" y2="488.80" stroke="#231815" stroke-width="1.3" />
<rect x="652.60" y="466.10" width="23.60" height="22.70" fill="none" stroke="#231815" stroke-width="1.3"/>
<circle cx="664.40" cy="477.45" r="11.35" fill="none" stroke="#231815" stroke-width="1.3"/>
<line x1="662.80" y1="466.10" x2="662.80" y2="475.85" stroke="#231815" stroke-width="1.3" />
<line x1="662.80" y1="479.05" x2="662.80" y2="488.80" stroke="#231815" stroke-width="1.3" />
<line x1="666.00" y1="466.10" x2="666.00" y2="475.85" stroke="#231815" stroke-width="1.3" />
<line x1="666.00" y1="479.05" x2="666.00" y2="488.80" stroke="#231815" stroke-width="1.3" />
<line x1="652.60" y1="475.85" x2="662.80" y2="475.85" stroke="#231815" stroke-width="1.3" />
<line x1="666.00" y1="475.85" x2="676.20" y2="475.85" stroke="#231815" stroke-width="1.3" />
<line x1="652.60" y1="479.05" x2="662.80" y2="479.05" stroke="#231815" stroke-width="1.3" />
<line x1="666.00" y1="479.05" x2="676.20" y2="479.05" stroke="#231815" stroke-width="1.3" />
<text x="635.40" y="482.50" font-size="13.2" fill="#231815" text-anchor="middle" font-weight="bold" font-family='"Liberation Sans",sans-serif' textLength="13.20" lengthAdjust="spacingAndGlyphs" stroke="#231815" stroke-width="0.25">23</text>
<line x1="628.00" y1="493.90" x2="676.20" y2="493.90" stroke="#231815" stroke-width="1.3" />
<line x1="628.00" y1="517.00" x2="676.20" y2="517.00" stroke="#231815" stroke-width="1.3" />
<line x1="646.30" y1="493.90" x2="646.30" y2="517.00" stroke="#231815" stroke-width="1.3" />
<rect x="652.60" y="493.90" width="23.60" height="23.10" fill="none" stroke="#231815" stroke-width="1.3"/>
<circle cx="664.40" cy="505.45" r="11.55" fill="none" stroke="#231815" stroke-width="1.3"/>
<line x1="662.80" y1="493.90" x2="662.80" y2="503.85" stroke="#231815" stroke-width="1.3" />
<line x1="662.80" y1="507.05" x2="662.80" y2="517.00" stroke="#231815" stroke-width="1.3" />
<line x1="666.00" y1="493.90" x2="666.00" y2="503.85" stroke="#231815" stroke-width="1.3" />
<line x1="666.00" y1="507.05" x2="666.00" y2="517.00" stroke="#231815" stroke-width="1.3" />
<line x1="652.60" y1="503.85" x2="662.80" y2="503.85" stroke="#231815" stroke-width="1.3" />
<line x1="666.00" y1="503.85" x2="676.20" y2="503.85" stroke="#231815" stroke-width="1.3" />
<line x1="652.60" y1="507.05" x2="662.80" y2="507.05" stroke="#231815" stroke-width="1.3" />
<line x1="666.00" y1="507.05" x2="676.20" y2="507.05" stroke="#231815" stroke-width="1.3" />
<text x="635.40" y="510.70" font-size="13.2" fill="#231815" text-anchor="middle" font-weight="bold" font-family='"Liberation Sans",sans-serif' textLength="13.20" lengthAdjust="spacingAndGlyphs" stroke="#231815" stroke-width="0.25">24</text>
<polyline points="676.20,449.60 691.30,449.60 691.30,454.50" fill="none" stroke="#231815" stroke-width="1.3" stroke-linejoin="miter" />
<rect x="687.9" y="454.5" width="6.3" height="20.7" fill="none" stroke="#231815" stroke-width="1.3"/>
<polyline points="691.30,475.20 691.30,506.10 676.20,506.10" fill="none" stroke="#231815" stroke-width="1.3" stroke-linejoin="miter" />
<polyline points="676.20,477.70 683.60,477.70 683.60,491.10 691.30,491.10" fill="none" stroke="#231815" stroke-width="1.3" stroke-linejoin="miter" />
<text x="706.90" y="479.80" font-size="12.5" fill="#231815" text-anchor="middle" font-weight="normal" font-family='"Liberation Sans",sans-serif' textLength="20.50" lengthAdjust="spacingAndGlyphs" stroke="#231815" stroke-width="0.3">RTD</text>
<text x="749.60" y="430.20" font-size="15.4" fill="#231815" text-anchor="start" font-weight="normal" font-family='"Liberation Sans",sans-serif' textLength="61.00" lengthAdjust="spacingAndGlyphs" >报警输出</text>
<line x1="752.10" y1="440.00" x2="795.40" y2="440.00" stroke="#231815" stroke-width="1.3" />
<line x1="752.10" y1="461.50" x2="795.40" y2="461.50" stroke="#231815" stroke-width="1.3" />
<line x1="768.30" y1="440.00" x2="768.30" y2="461.50" stroke="#231815" stroke-width="1.3" />
<rect x="774.30" y="440.00" width="21.10" height="21.50" fill="none" stroke="#231815" stroke-width="1.3"/>
<circle cx="784.85" cy="450.75" r="10.55" fill="none" stroke="#231815" stroke-width="1.3"/>
<line x1="783.25" y1="440.00" x2="783.25" y2="449.15" stroke="#231815" stroke-width="1.3" />
<line x1="783.25" y1="452.35" x2="783.25" y2="461.50" stroke="#231815" stroke-width="1.3" />
<line x1="786.45" y1="440.00" x2="786.45" y2="449.15" stroke="#231815" stroke-width="1.3" />
<line x1="786.45" y1="452.35" x2="786.45" y2="461.50" stroke="#231815" stroke-width="1.3" />
<line x1="774.30" y1="449.15" x2="783.25" y2="449.15" stroke="#231815" stroke-width="1.3" />
<line x1="786.45" y1="449.15" x2="795.40" y2="449.15" stroke="#231815" stroke-width="1.3" />
<line x1="774.30" y1="452.35" x2="783.25" y2="452.35" stroke="#231815" stroke-width="1.3" />
<line x1="786.45" y1="452.35" x2="795.40" y2="452.35" stroke="#231815" stroke-width="1.3" />
<text x="759.30" y="456.20" font-size="13.2" fill="#231815" text-anchor="middle" font-weight="bold" font-family='"Liberation Sans",sans-serif' textLength="5.60" lengthAdjust="spacingAndGlyphs" stroke="#231815" stroke-width="0.25">1</text>
<line x1="752.10" y1="465.70" x2="795.40" y2="465.70" stroke="#231815" stroke-width="1.3" />
<line x1="752.10" y1="487.10" x2="795.40" y2="487.10" stroke="#231815" stroke-width="1.3" />
<line x1="768.30" y1="465.70" x2="768.30" y2="487.10" stroke="#231815" stroke-width="1.3" />
<rect x="774.30" y="465.70" width="21.10" height="21.40" fill="none" stroke="#231815" stroke-width="1.3"/>
<circle cx="784.85" cy="476.40" r="10.55" fill="none" stroke="#231815" stroke-width="1.3"/>
<line x1="783.25" y1="465.70" x2="783.25" y2="474.80" stroke="#231815" stroke-width="1.3" />
<line x1="783.25" y1="478.00" x2="783.25" y2="487.10" stroke="#231815" stroke-width="1.3" />
<line x1="786.45" y1="465.70" x2="786.45" y2="474.80" stroke="#231815" stroke-width="1.3" />
<line x1="786.45" y1="478.00" x2="786.45" y2="487.10" stroke="#231815" stroke-width="1.3" />
<line x1="774.30" y1="474.80" x2="783.25" y2="474.80" stroke="#231815" stroke-width="1.3" />
<line x1="786.45" y1="474.80" x2="795.40" y2="474.80" stroke="#231815" stroke-width="1.3" />
<line x1="774.30" y1="478.00" x2="783.25" y2="478.00" stroke="#231815" stroke-width="1.3" />
<line x1="786.45" y1="478.00" x2="795.40" y2="478.00" stroke="#231815" stroke-width="1.3" />
<text x="759.30" y="481.80" font-size="13.2" fill="#231815" text-anchor="middle" font-weight="bold" font-family='"Liberation Sans",sans-serif' textLength="5.60" lengthAdjust="spacingAndGlyphs" stroke="#231815" stroke-width="0.25">2</text>
<line x1="752.10" y1="491.25" x2="795.40" y2="491.25" stroke="#231815" stroke-width="1.3" />
<line x1="752.10" y1="512.50" x2="795.40" y2="512.50" stroke="#231815" stroke-width="1.3" />
<line x1="768.30" y1="491.25" x2="768.30" y2="512.50" stroke="#231815" stroke-width="1.3" />
<rect x="774.30" y="491.25" width="21.10" height="21.25" fill="none" stroke="#231815" stroke-width="1.3"/>
<circle cx="784.85" cy="501.88" r="10.55" fill="none" stroke="#231815" stroke-width="1.3"/>
<line x1="783.25" y1="491.25" x2="783.25" y2="500.27" stroke="#231815" stroke-width="1.3" />
<line x1="783.25" y1="503.48" x2="783.25" y2="512.50" stroke="#231815" stroke-width="1.3" />
<line x1="786.45" y1="491.25" x2="786.45" y2="500.27" stroke="#231815" stroke-width="1.3" />
<line x1="786.45" y1="503.48" x2="786.45" y2="512.50" stroke="#231815" stroke-width="1.3" />
<line x1="774.30" y1="500.27" x2="783.25" y2="500.27" stroke="#231815" stroke-width="1.3" />
<line x1="786.45" y1="500.27" x2="795.40" y2="500.27" stroke="#231815" stroke-width="1.3" />
<line x1="774.30" y1="503.48" x2="783.25" y2="503.48" stroke="#231815" stroke-width="1.3" />
<line x1="786.45" y1="503.48" x2="795.40" y2="503.48" stroke="#231815" stroke-width="1.3" />
<text x="759.30" y="507.20" font-size="13.2" fill="#231815" text-anchor="middle" font-weight="bold" font-family='"Liberation Sans",sans-serif' textLength="5.60" lengthAdjust="spacingAndGlyphs" stroke="#231815" stroke-width="0.25">3</text>
<polyline points="795.40,447.10 810.50,447.10" fill="none" stroke="#231815" stroke-width="1.3" stroke-linejoin="miter" />
<circle cx="812.3" cy="447.1" r="1.9" fill="#fff" stroke="#231815" stroke-width="1.2"/>
<line x1="813.60" y1="448.50" x2="827.90" y2="463.30" stroke="#231815" stroke-width="1.3" />
<circle cx="816.25" cy="462.9" r="1.9" fill="#fff" stroke="#231815" stroke-width="1.2"/>
<line x1="816.25" y1="464.80" x2="816.25" y2="485.60" stroke="#231815" stroke-width="1.3" />
<line x1="795.40" y1="475.40" x2="816.25" y2="475.40" stroke="#231815" stroke-width="1.3" />
<circle cx="816.25" cy="487.5" r="1.9" fill="#fff" stroke="#231815" stroke-width="1.2"/>
<circle cx="816.25" cy="496.7" r="1.9" fill="#fff" stroke="#231815" stroke-width="1.2"/>
<line x1="816.60" y1="494.80" x2="819.60" y2="485.20" stroke="#231815" stroke-width="1.2" />
<line x1="816.25" y1="498.60" x2="816.25" y2="505.80" stroke="#231815" stroke-width="1.3" />
<line x1="795.40" y1="505.80" x2="816.25" y2="505.80" stroke="#231815" stroke-width="1.3" />
<text x="805.00" y="467.90" font-size="10.5" fill="#231815" text-anchor="middle" font-weight="normal" font-family='"Liberation Sans",sans-serif' textLength="11.80" lengthAdjust="spacingAndGlyphs" stroke="#231815" stroke-width="0.3">NO</text>
<text x="805.80" y="494.80" font-size="10.5" fill="#231815" text-anchor="middle" font-weight="normal" font-family='"Liberation Sans",sans-serif' textLength="11.80" lengthAdjust="spacingAndGlyphs" stroke="#231815" stroke-width="0.3">NC</text>
<text x="841.30" y="475.80" font-size="13.5" fill="#231815" text-anchor="middle" font-weight="normal" font-family='"Liberation Sans",sans-serif' textLength="20.50" lengthAdjust="spacingAndGlyphs" stroke="#231815" stroke-width="0.3">AL1</text>
<text x="879.40" y="429.80" font-size="15.4" fill="#231815" text-anchor="start" font-weight="normal" font-family='"Liberation Sans",sans-serif' textLength="61.00" lengthAdjust="spacingAndGlyphs" >工作电源</text>
<line x1="882.10" y1="441.10" x2="927.60" y2="441.10" stroke="#231815" stroke-width="1.3" />
<line x1="882.10" y1="463.90" x2="927.60" y2="463.90" stroke="#231815" stroke-width="1.3" />
<line x1="898.90" y1="441.10" x2="898.90" y2="463.90" stroke="#231815" stroke-width="1.3" />
<rect x="904.90" y="441.10" width="22.70" height="22.80" fill="none" stroke="#231815" stroke-width="1.3"/>
<circle cx="916.25" cy="452.50" r="11.35" fill="none" stroke="#231815" stroke-width="1.3"/>
<line x1="914.65" y1="441.10" x2="914.65" y2="450.90" stroke="#231815" stroke-width="1.3" />
<line x1="914.65" y1="454.10" x2="914.65" y2="463.90" stroke="#231815" stroke-width="1.3" />
<line x1="917.85" y1="441.10" x2="917.85" y2="450.90" stroke="#231815" stroke-width="1.3" />
<line x1="917.85" y1="454.10" x2="917.85" y2="463.90" stroke="#231815" stroke-width="1.3" />
<line x1="904.90" y1="450.90" x2="914.65" y2="450.90" stroke="#231815" stroke-width="1.3" />
<line x1="917.85" y1="450.90" x2="927.60" y2="450.90" stroke="#231815" stroke-width="1.3" />
<line x1="904.90" y1="454.10" x2="914.65" y2="454.10" stroke="#231815" stroke-width="1.3" />
<line x1="917.85" y1="454.10" x2="927.60" y2="454.10" stroke="#231815" stroke-width="1.3" />
<text x="889.10" y="456.60" font-size="13.2" fill="#231815" text-anchor="middle" font-weight="bold" font-family='"Liberation Sans",sans-serif' textLength="10.50" lengthAdjust="spacingAndGlyphs" stroke="#231815" stroke-width="0.25">11</text>
<line x1="882.10" y1="468.10" x2="927.60" y2="468.10" stroke="#231815" stroke-width="1.3" />
<line x1="882.10" y1="490.40" x2="927.60" y2="490.40" stroke="#231815" stroke-width="1.3" />
<line x1="898.90" y1="468.10" x2="898.90" y2="490.40" stroke="#231815" stroke-width="1.3" />
<rect x="904.90" y="468.10" width="22.70" height="22.30" fill="none" stroke="#231815" stroke-width="1.3"/>
<circle cx="916.25" cy="479.25" r="11.15" fill="none" stroke="#231815" stroke-width="1.3"/>
<line x1="914.65" y1="468.10" x2="914.65" y2="477.65" stroke="#231815" stroke-width="1.3" />
<line x1="914.65" y1="480.85" x2="914.65" y2="490.40" stroke="#231815" stroke-width="1.3" />
<line x1="917.85" y1="468.10" x2="917.85" y2="477.65" stroke="#231815" stroke-width="1.3" />
<line x1="917.85" y1="480.85" x2="917.85" y2="490.40" stroke="#231815" stroke-width="1.3" />
<line x1="904.90" y1="477.65" x2="914.65" y2="477.65" stroke="#231815" stroke-width="1.3" />
<line x1="917.85" y1="477.65" x2="927.60" y2="477.65" stroke="#231815" stroke-width="1.3" />
<line x1="904.90" y1="480.85" x2="914.65" y2="480.85" stroke="#231815" stroke-width="1.3" />
<line x1="917.85" y1="480.85" x2="927.60" y2="480.85" stroke="#231815" stroke-width="1.3" />
<text x="889.10" y="483.10" font-size="13.2" fill="#231815" text-anchor="middle" font-weight="bold" font-family='"Liberation Sans",sans-serif' textLength="10.50" lengthAdjust="spacingAndGlyphs" stroke="#231815" stroke-width="0.25">12</text>
<line x1="927.60" y1="453.80" x2="951.80" y2="453.80" stroke="#231815" stroke-width="1.3" />
<line x1="927.60" y1="480.00" x2="951.80" y2="480.00" stroke="#231815" stroke-width="1.3" />
<circle cx="954.2" cy="453.8" r="2.4" fill="#fff" stroke="#231815" stroke-width="1.3"/>
<circle cx="954.2" cy="480" r="2.4" fill="#fff" stroke="#231815" stroke-width="1.3"/>
<text x="941.80" y="450.10" font-size="14" fill="#231815" text-anchor="middle" font-weight="normal" font-family='"Liberation Sans",sans-serif' textLength="7.00" lengthAdjust="spacingAndGlyphs" stroke="#231815" stroke-width="0.3">L</text>
<text x="941.70" y="495.00" font-size="14" fill="#231815" text-anchor="middle" font-weight="normal" font-family='"Liberation Sans",sans-serif' textLength="8.20" lengthAdjust="spacingAndGlyphs" stroke="#231815" stroke-width="0.3">N</text>
<text x="919.50" y="572.50" font-size="17" fill="#231815" text-anchor="start" font-weight="normal" font-family='"Liberation Sans",sans-serif' textLength="51.00" lengthAdjust="spacingAndGlyphs" >三线制</text>
<text x="977.00" y="572.50" font-size="17" fill="#231815" text-anchor="start" font-weight="normal" font-family='"Liberation Sans",sans-serif' textLength="51.00" lengthAdjust="spacingAndGlyphs" >PT100</text>
<path d="M986.5,585 L919,585 Q912.5,585.5 912.5,593 Q913,603.5 921,604.5" fill="none" stroke="#3a3230" stroke-width="1.4" stroke-dasharray="0.1 3.3" stroke-linecap="round"/>
<circle cx="989.5" cy="584.8" r="3" fill="#fff" stroke="#3a3230" stroke-width="0.9"/>
<circle cx="989.5" cy="584.8" r="1.4" fill="none" stroke="#3a3230" stroke-width="0.8"/>
<circle cx="923.8" cy="604.5" r="3" fill="#fff" stroke="#3a3230" stroke-width="0.9"/>
<circle cx="923.8" cy="604.5" r="1.4" fill="none" stroke="#3a3230" stroke-width="0.8"/>
<line x1="925.50" y1="606.50" x2="933.50" y2="612.50" stroke="#3a3230" stroke-width="0.9" />
<line x1="924.20" y1="607.80" x2="932.50" y2="613.20" stroke="#3a3230" stroke-width="0.9" />
<line x1="991.00" y1="587.50" x2="999.00" y2="596.00" stroke="#3a3230" stroke-width="0.9" />
<line x1="989.80" y1="588.70" x2="997.80" y2="597.20" stroke="#3a3230" stroke-width="0.9" />
<path d="M934.5,611.5 Q935,605 940.5,605 Q946,605 946.5,611.5 Z" fill="#fff" stroke="#3a3230" stroke-width="0.9"/>
<line x1="938.00" y1="607.00" x2="940.50" y2="610.00" stroke="#3a3230" stroke-width="0.8" />
<line x1="943.00" y1="607.00" x2="940.50" y2="610.00" stroke="#3a3230" stroke-width="0.8" />
<rect x="932.8" y="611.4" width="13.7" height="1.8" fill="#3a3230"/>
<line x1="946.50" y1="613.00" x2="961.50" y2="613.00" stroke="#8a8380" stroke-width="1.0" />
<line x1="932.80" y1="613.00" x2="932.80" y2="617.50" stroke="#3a3230" stroke-width="1.0" />
<path d="M962,617.5 L926.2,617.5 L926.2,648.9 L962,648.9" fill="none" stroke="#3a3230" stroke-width="1.0"/>
<rect x="916.3" y="617.5" width="9.9" height="31.2" rx="3" fill="none" stroke="#3a3230" stroke-width="1.0"/>
<line x1="916.50" y1="625.00" x2="926.00" y2="625.00" stroke="#3a3230" stroke-width="1.0" />
<line x1="916.50" y1="641.50" x2="926.00" y2="641.50" stroke="#3a3230" stroke-width="1.0" />
<path d="M961.6,605 L961.6,617.5 Q966.5,633 961.6,650 L961.6,663.3 L1028.6,663.3 L1028.6,650.5" fill="none" stroke="#3a3230" stroke-width="1.0"/>
<path d="M964.03,592.82 C968.21,586.59 973.48,587.71 979.29,591.61 L1034.93,628.94 C1041.57,633.40 1044.05,638.67 1041.26,644.63 Z" fill="#fff" stroke="#3a3230" stroke-width="1.0"/>
<path d="M975.69,591.60 L1038.80,633.94" fill="none" stroke="#3a3230" stroke-width="1.0"/>
<path d="M991.75,599.97 L1002.54,607.21 L1004.77,603.89 L993.98,596.65 Z" fill="#fff" stroke="#3a3230" stroke-width="1.0"/>
<path d="M994.81,597.20 L1003.94,603.33 L1004.67,602.25 L995.53,596.12 Z" fill="#fff" stroke="#3a3230" stroke-width="1.0"/>
<path d="M995.95,596.40 C1000.24,590.01 1008.54,595.58 1004.25,601.97 Z" fill="#fff" stroke="#3a3230" stroke-width="1.0"/>
<path d="M1001.34,593.76 L1000.77,598.19" fill="none" stroke="#3a3230" stroke-width="1.0"/>
<path d="M1004.66,595.99 L1000.77,598.19" fill="none" stroke="#3a3230" stroke-width="1.0"/>
<path d="M1010.02,612.23 L1020.81,619.47 L1024.16,614.49 L1013.36,607.24 Z" fill="#fff" stroke="#3a3230" stroke-width="1.0"/>
<path d="M958.50,588.50 L1044.53,646.22 L1037.79,656.27 L951.76,598.55 Z" fill="#fff" stroke="#3a3230" stroke-width="1.0"/>
<path d="M962.24,591.01 L955.50,601.06" fill="none" stroke="#3a3230" stroke-width="1.0"/>
<path d="M1040.79,643.71 L1034.05,653.76" fill="none" stroke="#3a3230" stroke-width="1.0"/>
<path d="M960.90,593.00 L1039.46,645.71" fill="none" stroke="#3a3230" stroke-width="1.0"/>
<path d="M955.91,601.33 L960.14,596.83 C962.23,594.61 964.11,595.39 965.77,596.51 C969.09,598.74 970.25,600.60 968.17,602.81 L964.21,606.91" fill="none" stroke="#3a3230" stroke-width="1.0"/>
<path d="M970.86,599.69 L964.21,606.91" fill="none" stroke="#3a3230" stroke-width="1.0"/>
<path d="M980.83,606.37 L974.18,613.59" fill="none" stroke="#3a3230" stroke-width="1.0"/>
<path d="M975.84,614.71 L980.07,610.20 C982.16,607.98 984.04,608.77 985.70,609.88 C989.02,612.11 990.18,613.97 988.10,616.18 L984.14,620.28" fill="none" stroke="#3a3230" stroke-width="1.0"/>
<path d="M990.79,613.06 L984.14,620.28" fill="none" stroke="#3a3230" stroke-width="1.0"/>
<path d="M1000.76,619.74 L994.11,626.96" fill="none" stroke="#3a3230" stroke-width="1.0"/>
<path d="M995.77,628.08 L1000.00,623.57 C1002.09,621.36 1003.97,622.14 1005.63,623.25 C1008.95,625.48 1010.11,627.34 1008.03,629.55 L1004.07,633.65" fill="none" stroke="#3a3230" stroke-width="1.0"/>
<path d="M1010.72,626.43 L1004.07,633.65" fill="none" stroke="#3a3230" stroke-width="1.0"/>
<path d="M1020.69,633.11 L1014.04,640.33" fill="none" stroke="#3a3230" stroke-width="1.0"/>
<path d="M1015.70,641.45 L1019.93,636.94 C1022.02,634.73 1023.90,635.51 1025.56,636.62 C1028.88,638.85 1030.04,640.71 1027.96,642.93 L1024.00,647.02" fill="none" stroke="#3a3230" stroke-width="1.0"/>
<path d="M1030.65,639.80 L1024.00,647.02" fill="none" stroke="#3a3230" stroke-width="1.0"/>
<polyline points="754.20,828.30 833.20,828.30 833.20,629.00 988.80,627.00 1004.40,652.40" fill="none" stroke="#e4007f" stroke-width="2.2" stroke-linejoin="miter" />
<polyline points="754.20,855.70 848.30,855.70 848.30,634.30 981.60,633.60 990.50,652.40" fill="none" stroke="#00a0e9" stroke-width="2.2" stroke-linejoin="miter" />
<polyline points="754.20,883.00 863.80,883.00 863.80,640.10 974.00,638.70 978.20,652.40" fill="none" stroke="#00a0e9" stroke-width="2.2" stroke-linejoin="miter" />
<circle cx="978.20" cy="652.40" r="2.60" fill="#1a1a1a"/>
<circle cx="990.50" cy="652.40" r="2.60" fill="#1a1a1a"/>
<circle cx="1004.40" cy="652.40" r="2.60" fill="#1a1a1a"/>
<path d="M979.00,653.50 L987.60,660.80 L987.60,677.80" fill="none" stroke="#3a3230" stroke-width="1.0"/>
<line x1="991.80" y1="652.40" x2="991.80" y2="677.80" stroke="#8a8380" stroke-width="1.0" />
<line x1="990.50" y1="652.40" x2="990.50" y2="677.80" stroke="#3a3230" stroke-width="0.8" />
<path d="M1003.50,653.50 L997.90,659.50 L997.90,677.80" fill="none" stroke="#3a3230" stroke-width="1.0"/>
<line x1="999.00" y1="660.00" x2="999.00" y2="677.80" stroke="#8a8380" stroke-width="0.8" />
<path d="M961.60,663.30 L975.60,677.80" fill="none" stroke="#3a3230" stroke-width="1.0"/>
<path d="M1028.60,663.30 L1014.40,677.80" fill="none" stroke="#3a3230" stroke-width="1.0"/>
<path d="M972.20,663.30 L979.30,677.80" fill="none" stroke="#3a3230" stroke-width="1.0"/>
<path d="M1009.60,663.30 L1003.30,677.80" fill="none" stroke="#3a3230" stroke-width="1.0"/>
<rect x="975.6" y="677.8" width="38.8" height="21.1" fill="#fff" stroke="#3a3230" stroke-width="1.2"/>
<line x1="979.30" y1="677.80" x2="979.30" y2="698.90" stroke="#3a3230" stroke-width="1.0" />
<line x1="1003.30" y1="677.80" x2="1003.30" y2="698.90" stroke="#3a3230" stroke-width="1.0" />
<rect x="1005.9" y="681.3" width="8.1" height="14.3" fill="none" stroke="#3a3230" stroke-width="0.9"/>
<circle cx="1008.90" cy="688.40" r="1.50" fill="#3a3230"/>
<line x1="987.60" y1="677.80" x2="987.60" y2="698.90" stroke="#5a5250" stroke-width="0.9" />
<line x1="991.90" y1="677.80" x2="991.90" y2="698.90" stroke="#5a5250" stroke-width="0.9" />
<line x1="997.90" y1="677.80" x2="997.90" y2="698.90" stroke="#5a5250" stroke-width="0.9" />
<line x1="983.10" y1="698.90" x2="983.10" y2="876.00" stroke="#8a8380" stroke-width="1.1" />
<line x1="1004.40" y1="698.90" x2="1004.40" y2="876.00" stroke="#3a3230" stroke-width="1.1" />
<line x1="987.60" y1="698.90" x2="987.60" y2="876.00" stroke="#3a3230" stroke-width="1.0" />
<line x1="992.00" y1="698.90" x2="992.00" y2="876.00" stroke="#8a8380" stroke-width="1.0" />
<line x1="997.90" y1="698.90" x2="997.90" y2="876.00" stroke="#8a8380" stroke-width="1.0" />
<path d="M983.1,876 Q987,874 992,876 Q998,878 1004.4,875.5" fill="none" stroke="#8a8380" stroke-width="1"/>
<path d="M983.1,884 Q983.5,881 988,881.5 Q993,882 997,880.5 Q1003,879 1004.4,881" fill="none" stroke="#8a8380" stroke-width="1"/>
<path d="M983.1,884 L983.1,955 A10.65,9.6 0 0 0 1004.4,955 L1004.4,881" fill="none" stroke="#3a3230" stroke-width="1.1"/>
<line x1="987.50" y1="882.00" x2="987.50" y2="955.50" stroke="#3a3230" stroke-width="1.0" />
<line x1="992.10" y1="882.00" x2="992.10" y2="955.50" stroke="#8a8380" stroke-width="1.0" />
<path d="M987.5,955.5 L998.1,955.5 L998.1,950 L1000.5,948.5 L996.5,946 L1000.5,943.5 L996.5,941 L1000.5,938.5 L996.5,936 L998.1,935 L998.1,882" fill="none" stroke="#8a8380" stroke-width="1"/>
</svg>
</body></html>
